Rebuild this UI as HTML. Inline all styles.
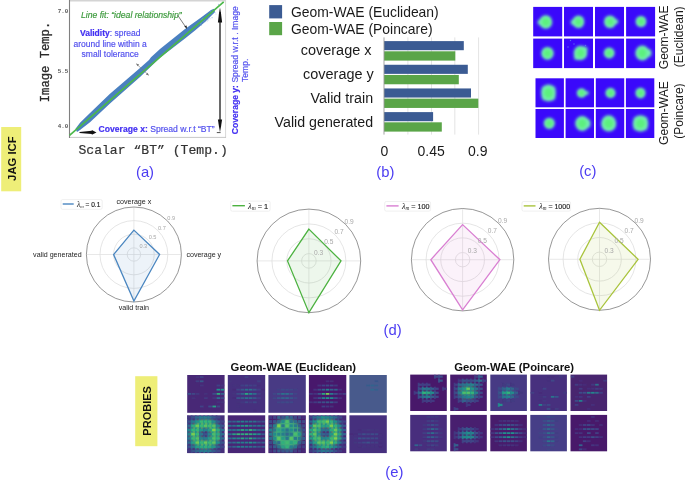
<!DOCTYPE html>
<html><head><meta charset="utf-8"><style>
html,body{margin:0;padding:0;background:#fff;}
body{width:685px;height:481px;overflow:hidden;font-family:"Liberation Sans",sans-serif;}
svg{display:block;will-change:transform;}
</style></head><body>
<svg width="685" height="481" viewBox="0 0 685 481">
<defs>
<filter id="bl1" x="-20%" y="-20%" width="140%" height="140%"><feGaussianBlur stdDeviation="1.5"/></filter>
<filter id="bl2" x="-20%" y="-20%" width="140%" height="140%"><feGaussianBlur stdDeviation="1.5"/></filter>
<filter id="bl3" x="-5%" y="-5%" width="110%" height="110%"><feGaussianBlur stdDeviation="0.5"/></filter>
<filter id="bl5" x="-30%" y="-30%" width="160%" height="160%"><feGaussianBlur stdDeviation="2.2"/></filter>
<filter id="bl4" x="-5%" y="-5%" width="110%" height="110%"><feGaussianBlur stdDeviation="0.75"/></filter>
</defs>
<rect width="685" height="481" fill="#fff"/>
<rect x="69.5" y="0.5" width="156" height="137" fill="#fff" stroke="none"/>
<line x1="69" y1="0.8" x2="226" y2="0.8" stroke="#d4d4d4" stroke-width="1.6"/>
<line x1="225.6" y1="0" x2="225.6" y2="138" stroke="#d8d8d8" stroke-width="1"/>
<line x1="69" y1="137.4" x2="226" y2="137.4" stroke="#c8c8c8" stroke-width="1"/>
<line x1="69.5" y1="0" x2="69.5" y2="138" stroke="#808080" stroke-width="1.1"/>
<polygon points="75.5,128.7 80.0,122.8 90.0,112.9 110.0,93.8 140.0,68.1 149.0,60.1 151.0,57.2 160.0,49.0 185.0,29.1 200.0,18.2 211.0,10.1 214.0,8.8 215.0,11.9 205.0,21.9 195.0,30.5 185.0,38.6 160.0,57.8 140.0,77.1 110.0,103.5 90.0,122.3 80.0,130.1 77.0,131.9" fill="#4a80c0"/>
<circle cx="206.2" cy="15.9" r="0.45" fill="#7aa6d8" opacity="0.8"/>
<circle cx="212.4" cy="9.8" r="0.45" fill="#7aa6d8" opacity="0.8"/>
<circle cx="210.2" cy="14.2" r="0.45" fill="#7aa6d8" opacity="0.8"/>
<circle cx="201.1" cy="23.3" r="0.45" fill="#7aa6d8" opacity="0.8"/>
<circle cx="200.7" cy="23.0" r="0.45" fill="#7aa6d8" opacity="0.8"/>
<circle cx="201.3" cy="19.5" r="0.45" fill="#7aa6d8" opacity="0.8"/>
<circle cx="208.1" cy="20.0" r="0.45" fill="#7aa6d8" opacity="0.8"/>
<circle cx="202.4" cy="19.8" r="0.45" fill="#7aa6d8" opacity="0.8"/>
<circle cx="211.9" cy="17.7" r="0.45" fill="#7aa6d8" opacity="0.8"/>
<circle cx="211.0" cy="13.8" r="0.45" fill="#7aa6d8" opacity="0.8"/>
<circle cx="218.5" cy="4.3" r="0.45" fill="#7aa6d8" opacity="0.8"/>
<circle cx="216.3" cy="8.3" r="0.45" fill="#7aa6d8" opacity="0.8"/>
<circle cx="202.7" cy="18.5" r="0.45" fill="#7aa6d8" opacity="0.8"/>
<circle cx="205.9" cy="21.8" r="0.45" fill="#7aa6d8" opacity="0.8"/>
<circle cx="203.4" cy="21.9" r="0.45" fill="#7aa6d8" opacity="0.8"/>
<circle cx="212.1" cy="12.6" r="0.45" fill="#7aa6d8" opacity="0.8"/>
<circle cx="210.4" cy="11.4" r="0.45" fill="#7aa6d8" opacity="0.8"/>
<circle cx="201.1" cy="20.7" r="0.45" fill="#7aa6d8" opacity="0.8"/>
<circle cx="212.9" cy="12.4" r="0.45" fill="#7aa6d8" opacity="0.8"/>
<circle cx="206.0" cy="19.7" r="0.45" fill="#7aa6d8" opacity="0.8"/>
<circle cx="208.6" cy="15.0" r="0.45" fill="#7aa6d8" opacity="0.8"/>
<circle cx="215.1" cy="12.8" r="0.45" fill="#7aa6d8" opacity="0.8"/>
<circle cx="204.6" cy="20.8" r="0.45" fill="#7aa6d8" opacity="0.8"/>
<circle cx="210.0" cy="18.7" r="0.45" fill="#7aa6d8" opacity="0.8"/>
<circle cx="213.9" cy="10.4" r="0.45" fill="#7aa6d8" opacity="0.8"/>
<circle cx="218.6" cy="4.8" r="0.45" fill="#7aa6d8" opacity="0.8"/>
<circle cx="207.9" cy="19.5" r="0.45" fill="#7aa6d8" opacity="0.8"/>
<circle cx="202.9" cy="21.6" r="0.45" fill="#7aa6d8" opacity="0.8"/>
<circle cx="200.7" cy="25.0" r="0.45" fill="#7aa6d8" opacity="0.8"/>
<circle cx="214.5" cy="12.2" r="0.45" fill="#7aa6d8" opacity="0.8"/>
<circle cx="216.6" cy="8.2" r="0.45" fill="#7aa6d8" opacity="0.8"/>
<circle cx="213.2" cy="13.5" r="0.45" fill="#7aa6d8" opacity="0.8"/>
<circle cx="211.0" cy="14.3" r="0.45" fill="#7aa6d8" opacity="0.8"/>
<circle cx="216.0" cy="14.1" r="0.45" fill="#7aa6d8" opacity="0.8"/>
<circle cx="209.0" cy="17.8" r="0.45" fill="#7aa6d8" opacity="0.8"/>
<circle cx="201.2" cy="24.9" r="0.45" fill="#7aa6d8" opacity="0.8"/>
<circle cx="212.3" cy="17.7" r="0.45" fill="#7aa6d8" opacity="0.8"/>
<circle cx="215.6" cy="8.8" r="0.45" fill="#7aa6d8" opacity="0.8"/>
<circle cx="207.3" cy="19.3" r="0.45" fill="#7aa6d8" opacity="0.8"/>
<circle cx="200.4" cy="23.5" r="0.45" fill="#7aa6d8" opacity="0.8"/>
<circle cx="203.2" cy="18.1" r="0.45" fill="#7aa6d8" opacity="0.8"/>
<circle cx="201.1" cy="25.5" r="0.45" fill="#7aa6d8" opacity="0.8"/>
<circle cx="202.5" cy="19.9" r="0.45" fill="#7aa6d8" opacity="0.8"/>
<circle cx="207.4" cy="20.9" r="0.45" fill="#7aa6d8" opacity="0.8"/>
<circle cx="201.5" cy="22.4" r="0.45" fill="#7aa6d8" opacity="0.8"/>
<line x1="69.5" y1="135.4" x2="223.7" y2="1.9" stroke="#4cb84a" stroke-width="1.7"/>
<line x1="136.5" y1="64" x2="148.5" y2="75" stroke="#777" stroke-width="0.6"/>
<polygon points="136,63.5 139.2,64.6 137.6,66.3" fill="#777"/>
<polygon points="149,75.5 145.8,74.4 147.4,72.7" fill="#777"/>
<line x1="177.5" y1="15" x2="186" y2="27.5" stroke="#222" stroke-width="0.6"/>
<polygon points="187,29 184.3,26.2 186.6,25.4" fill="#222"/>
<polygon points="79.5,131.9 91.8,130.7 91.8,130.0 96.5,132.4 91.8,134.8 91.8,134.1 79.5,132.9" fill="#111"/>
<line x1="220" y1="12" x2="220" y2="126" stroke="#111" stroke-width="1.25"/>
<polygon points="220,7.5 218.9,14 217.9,22.5 222.1,22.5 221.1,14" fill="#111"/>
<polygon points="220,132.3 218.9,126 217.9,119.5 222.1,119.5 221.1,126" fill="#111"/>
<line x1="216.8" y1="132.6" x2="220.6" y2="132.6" stroke="#222" stroke-width="0.8"/>
<text x="68.3" y="12.6" font-family="Liberation Mono" font-weight="bold" font-size="5.8" fill="#555" text-anchor="end">7.0</text>
<text x="68.3" y="73.3" font-family="Liberation Mono" font-weight="bold" font-size="5.8" fill="#555" text-anchor="end">5.5</text>
<text x="68.3" y="127.8" font-family="Liberation Mono" font-weight="bold" font-size="5.8" fill="#555" text-anchor="end">4.0</text>
<text transform="translate(49.3,62) rotate(-90)" font-family="Liberation Mono" font-size="12.2" fill="#2a2a2a" stroke="#2a2a2a" stroke-width="0.3" text-anchor="middle">Image Temp.</text>
<text x="78.4" y="154.4" font-family="Liberation Mono" font-size="13.1" fill="#333" stroke="#333" stroke-width="0.2" textLength="149.4">Scalar “BT” (Temp.)</text>
<text x="81" y="17.9" font-family="Liberation Sans" font-style="italic" font-size="8.65" fill="#3c9a3c" stroke="#3c9a3c" stroke-width="0.18">Line fit: “ideal relationship”</text>
<text font-family="Liberation Sans" font-size="8.5" fill="#5250ee" stroke="#5250ee" stroke-width="0.18" text-anchor="middle"><tspan x="110.2" y="36.3"><tspan font-weight="bold" fill="#4330f2" stroke="#4330f2">Validity</tspan>: spread</tspan><tspan x="110.2" y="46.7">around line within a</tspan><tspan x="110.2" y="57">small tolerance</tspan></text>
<text x="98.6" y="132.4" font-family="Liberation Sans" font-size="8.6" fill="#5250ee" stroke="#5250ee" stroke-width="0.18"><tspan font-weight="bold" fill="#4330f2" stroke="#4330f2">Coverage x:</tspan> Spread w.r.t “BT”</text>
<text transform="translate(237.6,70.2) rotate(-90)" font-family="Liberation Sans" font-size="8.6" fill="#5250ee" stroke="#5250ee" stroke-width="0.18" text-anchor="middle"><tspan font-weight="bold" fill="#4330f2" stroke="#4330f2">Coverage y:</tspan> Spread w.r.t . Image</text>
<text transform="translate(247.6,70.3) rotate(-90)" font-family="Liberation Sans" font-size="8.6" fill="#5250ee" stroke="#5250ee" stroke-width="0.18" text-anchor="middle">Temp.</text>
<rect x="269.2" y="5.1" width="12.9" height="13.3" fill="#3b5b93"/>
<rect x="269.2" y="22" width="12.9" height="13.2" fill="#5aa548"/>
<text x="291" y="16.9" font-family="Liberation Sans" font-size="13.9" fill="#1a1a1a">Geom-WAE (Euclidean)</text>
<text x="291" y="33.6" font-family="Liberation Sans" font-size="13.9" fill="#1a1a1a">Geom-WAE (Poincare)</text>
<line x1="407.9" y1="37.4" x2="407.9" y2="134.6" stroke="#dcdcdc" stroke-width="0.8"/>
<line x1="431.5" y1="37.4" x2="431.5" y2="134.6" stroke="#dcdcdc" stroke-width="0.8"/>
<line x1="454.8" y1="37.4" x2="454.8" y2="134.6" stroke="#dcdcdc" stroke-width="0.8"/>
<line x1="478.6" y1="37.4" x2="478.6" y2="134.6" stroke="#dcdcdc" stroke-width="0.8"/>
<rect x="384" y="41.10" width="79.80" height="9.1" fill="#3b5b93"/>
<rect x="384" y="51.30" width="71.30" height="9.3" fill="#5aa548"/>
<rect x="384" y="64.77" width="83.80" height="9.1" fill="#3b5b93"/>
<rect x="384" y="74.97" width="74.80" height="9.3" fill="#5aa548"/>
<rect x="384" y="88.44" width="87.00" height="9.1" fill="#3b5b93"/>
<rect x="384" y="98.64" width="94.30" height="9.3" fill="#5aa548"/>
<rect x="384" y="112.11" width="49.10" height="9.1" fill="#3b5b93"/>
<rect x="384" y="122.31" width="57.80" height="9.3" fill="#5aa548"/>
<line x1="384" y1="37.4" x2="384" y2="134.6" stroke="#999" stroke-width="0.9"/>
<text x="300.70" y="55.40" font-family="Liberation Sans" font-size="14" fill="#1a1a1a" textLength="70.8" lengthAdjust="spacingAndGlyphs">coverage x</text>
<text x="303.10" y="79.25" font-family="Liberation Sans" font-size="14" fill="#1a1a1a" textLength="70.6" lengthAdjust="spacingAndGlyphs">coverage y</text>
<text x="310.60" y="103.10" font-family="Liberation Sans" font-size="14" fill="#1a1a1a" textLength="62.5" lengthAdjust="spacingAndGlyphs">Valid train</text>
<text x="274.60" y="126.95" font-family="Liberation Sans" font-size="14" fill="#1a1a1a" textLength="98.5" lengthAdjust="spacingAndGlyphs">Valid generated</text>
<text x="384.4" y="155.8" font-family="Liberation Sans" font-size="14" fill="#1a1a1a" text-anchor="middle">0</text>
<text x="431.1" y="155.8" font-family="Liberation Sans" font-size="14" fill="#1a1a1a" text-anchor="middle">0.45</text>
<text x="477.7" y="155.8" font-family="Liberation Sans" font-size="14" fill="#1a1a1a" text-anchor="middle">0.9</text>
<rect x="533.2" y="6.9" width="29.0" height="29.5" fill="#3a08fb"/>
<rect x="535.5" y="78.3" width="28.4" height="29.0" fill="#3a08fb"/>
<rect x="564.0" y="6.9" width="29.0" height="29.5" fill="#3a08fb"/>
<rect x="565.6" y="78.3" width="28.4" height="29.0" fill="#3a08fb"/>
<rect x="595.0" y="6.9" width="29.0" height="29.5" fill="#3a08fb"/>
<rect x="595.8" y="78.3" width="28.4" height="29.0" fill="#3a08fb"/>
<rect x="626.1" y="6.9" width="29.0" height="29.5" fill="#3a08fb"/>
<rect x="625.9" y="78.3" width="28.4" height="29.0" fill="#3a08fb"/>
<rect x="533.2" y="38.6" width="29.0" height="29.5" fill="#3a08fb"/>
<rect x="535.5" y="109.0" width="28.4" height="29.0" fill="#3a08fb"/>
<rect x="564.0" y="38.6" width="29.0" height="29.5" fill="#3a08fb"/>
<rect x="565.6" y="109.0" width="28.4" height="29.0" fill="#3a08fb"/>
<rect x="595.0" y="38.6" width="29.0" height="29.5" fill="#3a08fb"/>
<rect x="595.8" y="109.0" width="28.4" height="29.0" fill="#3a08fb"/>
<rect x="626.1" y="38.6" width="29.0" height="29.5" fill="#3a08fb"/>
<rect x="625.9" y="109.0" width="28.4" height="29.0" fill="#3a08fb"/>
<g filter="url(#bl1)">
<ellipse cx="545.8" cy="22.0" rx="6.4" ry="6.7" fill="#74efb2"/>
<ellipse cx="541.0" cy="22.3" rx="3.4" ry="3.0" fill="#74efb2"/>
<ellipse cx="578.5" cy="21.8" rx="5.8" ry="6.3" fill="#74efb2"/>
<ellipse cx="573.8" cy="22.2" rx="3.0" ry="3.0" fill="#74efb2"/>
<ellipse cx="610.0" cy="21.8" rx="6.0" ry="6.3" fill="#74efb2"/>
<ellipse cx="615.3" cy="21.6" rx="2.9" ry="2.6" fill="#74efb2"/>
<ellipse cx="641.0" cy="21.5" rx="5.3" ry="5.6" fill="#74efb2"/>
<ellipse cx="547.5" cy="53.3" rx="6.2" ry="6.4" fill="#74efb2"/>
<ellipse cx="580.5" cy="53.0" rx="6.8" ry="7.2" fill="#74efb2"/>
<ellipse cx="584.5" cy="49.5" rx="3.0" ry="3.0" fill="#74efb2"/>
<ellipse cx="577.0" cy="57.0" rx="3.0" ry="3.0" fill="#74efb2"/>
<ellipse cx="609.2" cy="53.0" rx="5.4" ry="5.4" fill="#74efb2"/>
<ellipse cx="642.3" cy="53.0" rx="7.0" ry="7.6" fill="#74efb2"/>
<ellipse cx="648.0" cy="53.0" rx="3.5" ry="4.0" fill="#74efb2"/>
<ellipse cx="548.5" cy="93.0" rx="7.4" ry="8.4" fill="#74efb2"/>
<ellipse cx="545.3" cy="89.3" rx="3.6" ry="3.6" fill="#74efb2"/>
<ellipse cx="551.8" cy="89.3" rx="3.6" ry="3.6" fill="#74efb2"/>
<ellipse cx="545.3" cy="96.8" rx="3.6" ry="3.6" fill="#74efb2"/>
<ellipse cx="551.8" cy="96.8" rx="3.6" ry="3.6" fill="#74efb2"/>
<ellipse cx="581.5" cy="93.0" rx="4.6" ry="4.6" fill="#74efb2"/>
<ellipse cx="586.3" cy="93.0" rx="2.6" ry="2.0" fill="#74efb2"/>
<ellipse cx="610.5" cy="93.0" rx="5.0" ry="5.1" fill="#74efb2"/>
<ellipse cx="640.5" cy="93.0" rx="5.0" ry="5.3" fill="#74efb2"/>
<ellipse cx="549.3" cy="123.3" rx="5.5" ry="5.6" fill="#74efb2"/>
<ellipse cx="582.2" cy="123.5" rx="7.0" ry="7.6" fill="#74efb2"/>
<ellipse cx="587.0" cy="123.5" rx="3.5" ry="4.5" fill="#74efb2"/>
<ellipse cx="608.7" cy="123.4" rx="7.6" ry="8.1" fill="#74efb2"/>
<ellipse cx="640.5" cy="123.5" rx="7.8" ry="8.2" fill="#74efb2"/>
<ellipse cx="637.0" cy="120.0" rx="3.5" ry="3.5" fill="#74efb2"/>
<ellipse cx="644.0" cy="120.0" rx="3.5" ry="3.5" fill="#74efb2"/>
<ellipse cx="637.0" cy="127.0" rx="3.5" ry="3.5" fill="#74efb2"/>
<ellipse cx="644.0" cy="127.0" rx="3.5" ry="3.5" fill="#74efb2"/>
</g>
<g filter="url(#bl2)">
<ellipse cx="545.8" cy="22.0" rx="4.0" ry="4.2" fill="#5cf07e"/>
<ellipse cx="578.5" cy="21.8" rx="3.6" ry="3.9" fill="#5cf07e"/>
<ellipse cx="610.0" cy="21.8" rx="3.7" ry="3.9" fill="#5cf07e"/>
<ellipse cx="641.0" cy="21.5" rx="3.3" ry="3.5" fill="#5cf07e"/>
<ellipse cx="547.5" cy="53.3" rx="3.8" ry="4.0" fill="#5cf07e"/>
<ellipse cx="580.5" cy="53.0" rx="4.2" ry="4.5" fill="#5cf07e"/>
<ellipse cx="609.2" cy="53.0" rx="3.3" ry="3.3" fill="#5cf07e"/>
<ellipse cx="642.3" cy="53.0" rx="4.3" ry="4.7" fill="#5cf07e"/>
<ellipse cx="548.5" cy="93.0" rx="4.6" ry="5.2" fill="#5cf07e"/>
<ellipse cx="581.5" cy="93.0" rx="2.9" ry="2.9" fill="#5cf07e"/>
<ellipse cx="610.5" cy="93.0" rx="3.1" ry="3.2" fill="#5cf07e"/>
<ellipse cx="640.5" cy="93.0" rx="3.1" ry="3.3" fill="#5cf07e"/>
<ellipse cx="549.3" cy="123.3" rx="3.4" ry="3.5" fill="#5cf07e"/>
<ellipse cx="582.2" cy="123.5" rx="4.3" ry="4.7" fill="#5cf07e"/>
<ellipse cx="608.7" cy="123.4" rx="4.7" ry="5.0" fill="#5cf07e"/>
<ellipse cx="640.5" cy="123.5" rx="4.8" ry="5.1" fill="#5cf07e"/>
</g>
<circle cx="570.5" cy="40.5" r="0.7" fill="#5a6cf0"/>
<circle cx="574.0" cy="44.0" r="0.7" fill="#5a6cf0"/>
<circle cx="568.0" cy="47.0" r="0.7" fill="#5a6cf0"/>
<circle cx="585.5" cy="45.5" r="0.7" fill="#5a6cf0"/>
<text transform="translate(668.3,37.4) rotate(-90)" font-family="Liberation Sans" font-size="12" fill="#1a1a1a" text-anchor="middle">Geom-WAE</text>
<text transform="translate(682.6,36.8) rotate(-90)" font-family="Liberation Sans" font-size="12" fill="#1a1a1a" text-anchor="middle">(Euclidean)</text>
<text transform="translate(668.3,113.1) rotate(-90)" font-family="Liberation Sans" font-size="12" fill="#1a1a1a" text-anchor="middle">Geom-WAE</text>
<text transform="translate(682.6,111.1) rotate(-90)" font-family="Liberation Sans" font-size="12" fill="#1a1a1a" text-anchor="middle">(Poincare)</text>
<text x="145" y="177.1" font-family="Liberation Sans" font-size="14.8" fill="#4b3cf2" text-anchor="middle">(a)</text>
<text x="385.3" y="177.1" font-family="Liberation Sans" font-size="14.8" fill="#4b3cf2" text-anchor="middle">(b)</text>
<text x="587.8" y="175.6" font-family="Liberation Sans" font-size="14.8" fill="#4b3cf2" text-anchor="middle">(c)</text>
<text x="392.6" y="334.9" font-family="Liberation Sans" font-size="14.8" fill="#4b3cf2" text-anchor="middle">(d)</text>
<text x="394.3" y="477.2" font-family="Liberation Sans" font-size="14.8" fill="#4b3cf2" text-anchor="middle">(e)</text>
<rect x="1.2" y="127" width="20" height="64.3" fill="#eeee78"/>
<text transform="translate(16,158.6) rotate(-90)" font-family="Liberation Sans" font-weight="bold" font-size="11.3" fill="#111" text-anchor="middle">JAG ICF</text>
<rect x="135.2" y="376.2" width="22.2" height="70" fill="#eeee78"/>
<text transform="translate(150.8,410.9) rotate(-90)" font-family="Liberation Sans" font-weight="bold" font-size="11" fill="#111" text-anchor="middle">PROBIES</text>
<circle cx="133.9" cy="254.5" r="6.70" fill="none" stroke="#dadada" stroke-width="0.7"/>
<circle cx="133.9" cy="254.5" r="20.30" fill="none" stroke="#dadada" stroke-width="0.7"/>
<circle cx="133.9" cy="254.5" r="33.90" fill="none" stroke="#dadada" stroke-width="0.7"/>
<line x1="86.4" y1="254.5" x2="181.4" y2="254.5" stroke="#dedede" stroke-width="0.7"/>
<line x1="133.9" y1="207.0" x2="133.9" y2="302.0" stroke="#dedede" stroke-width="0.7"/>
<circle cx="133.9" cy="254.5" r="47.50" fill="none" stroke="#6a6a6a" stroke-width="0.7"/>
<polygon points="133.9,230.1 159.6,254.5 133.9,301.0 113.6,254.5" fill="#4a86c0" fill-opacity="0.1" stroke="#4a86c0" stroke-width="1.3" stroke-linejoin="miter"/>
<text x="143.3" y="248.2" font-family="Liberation Sans" font-size="5.6" fill="#a8a8a8" text-anchor="middle">0.3</text>
<text x="152.6" y="238.8" font-family="Liberation Sans" font-size="5.6" fill="#a8a8a8" text-anchor="middle">0.5</text>
<text x="161.9" y="229.5" font-family="Liberation Sans" font-size="5.6" fill="#a8a8a8" text-anchor="middle">0.7</text>
<text x="171.2" y="220.2" font-family="Liberation Sans" font-size="5.6" fill="#a8a8a8" text-anchor="middle">0.9</text>
<rect x="61.0" y="199.6" width="41.2" height="9.7" rx="1.5" fill="#fff" stroke="#e6e6e6" stroke-width="0.6"/>
<line x1="62.7" y1="204.0" x2="73.7" y2="204.0" stroke="#4a86c0" stroke-width="1.4"/>
<text x="77.0" y="206.9" font-family="Liberation Sans" font-size="6.555" fill="#222"><tspan font-family="Liberation Serif" font-style="italic" font-size="7.6">λ</tspan><tspan font-family="Liberation Serif" font-style="italic" font-size="4.8" dy="1.3">m</tspan><tspan dy="-1.3" stroke="#222" stroke-width="0.15"> = 0.1</tspan></text>
<text x="133.9" y="203.7" font-family="Liberation Sans" font-size="7.1" fill="#222" text-anchor="middle">coverage x</text>
<text x="186.4" y="257.0" font-family="Liberation Sans" font-size="7.1" fill="#222" text-anchor="start">coverage y</text>
<text x="133.9" y="309.6" font-family="Liberation Sans" font-size="7.1" fill="#222" text-anchor="middle">valid train</text>
<text x="81.6" y="257.0" font-family="Liberation Sans" font-size="7.1" fill="#222" text-anchor="end">valid generated</text>
<circle cx="308.9" cy="260.9" r="7.30" fill="none" stroke="#dadada" stroke-width="0.7"/>
<circle cx="308.9" cy="260.9" r="22.13" fill="none" stroke="#dadada" stroke-width="0.7"/>
<circle cx="308.9" cy="260.9" r="36.97" fill="none" stroke="#dadada" stroke-width="0.7"/>
<line x1="257.1" y1="260.9" x2="360.7" y2="260.9" stroke="#dedede" stroke-width="0.7"/>
<line x1="308.9" y1="209.1" x2="308.9" y2="312.7" stroke="#dedede" stroke-width="0.7"/>
<circle cx="308.9" cy="260.9" r="51.80" fill="none" stroke="#6a6a6a" stroke-width="0.7"/>
<polygon points="308.9,229.1 341.0,260.9 308.9,312.7 287.5,260.9" fill="#4cb240" fill-opacity="0.1" stroke="#4cb240" stroke-width="1.3" stroke-linejoin="miter"/>
<text x="318.7" y="254.5" font-family="Liberation Sans" font-size="6.6" fill="#a8a8a8" text-anchor="middle">0.3</text>
<text x="328.8" y="244.3" font-family="Liberation Sans" font-size="6.6" fill="#a8a8a8" text-anchor="middle">0.5</text>
<text x="339.0" y="234.2" font-family="Liberation Sans" font-size="6.6" fill="#a8a8a8" text-anchor="middle">0.7</text>
<text x="349.2" y="224.0" font-family="Liberation Sans" font-size="6.6" fill="#a8a8a8" text-anchor="middle">0.9</text>
<rect x="230.7" y="201.1" width="39.4" height="10.1" rx="1.5" fill="#fff" stroke="#e6e6e6" stroke-width="0.6"/>
<line x1="232.4" y1="205.7" x2="244.9" y2="205.7" stroke="#4cb240" stroke-width="1.4"/>
<text x="247.9" y="209.0" font-family="Liberation Sans" font-size="7.409999999999999" fill="#222"><tspan font-family="Liberation Serif" font-style="italic" font-size="8.6">λ</tspan><tspan font-family="Liberation Serif" font-style="italic" font-size="5.5" dy="1.3">m</tspan><tspan dy="-1.3" stroke="#222" stroke-width="0.15"> = 1</tspan></text>
<circle cx="462.6" cy="259.7" r="7.20" fill="none" stroke="#dadada" stroke-width="0.7"/>
<circle cx="462.6" cy="259.7" r="21.87" fill="none" stroke="#dadada" stroke-width="0.7"/>
<circle cx="462.6" cy="259.7" r="36.53" fill="none" stroke="#dadada" stroke-width="0.7"/>
<line x1="411.4" y1="259.7" x2="513.8" y2="259.7" stroke="#dedede" stroke-width="0.7"/>
<line x1="462.6" y1="208.5" x2="462.6" y2="310.9" stroke="#dedede" stroke-width="0.7"/>
<circle cx="462.6" cy="259.7" r="51.20" fill="none" stroke="#6a6a6a" stroke-width="0.7"/>
<polygon points="462.6,224.6 499.9,259.7 462.6,309.8 430.8,259.7" fill="#d97fd2" fill-opacity="0.1" stroke="#d97fd2" stroke-width="1.3" stroke-linejoin="miter"/>
<text x="472.3" y="253.4" font-family="Liberation Sans" font-size="6.6" fill="#a8a8a8" text-anchor="middle">0.3</text>
<text x="482.4" y="243.3" font-family="Liberation Sans" font-size="6.6" fill="#a8a8a8" text-anchor="middle">0.5</text>
<text x="492.4" y="233.3" font-family="Liberation Sans" font-size="6.6" fill="#a8a8a8" text-anchor="middle">0.7</text>
<text x="502.5" y="223.2" font-family="Liberation Sans" font-size="6.6" fill="#a8a8a8" text-anchor="middle">0.9</text>
<rect x="384.7" y="201.5" width="45.9" height="9.6" rx="1.5" fill="#fff" stroke="#e6e6e6" stroke-width="0.6"/>
<line x1="386.4" y1="205.9" x2="398.6" y2="205.9" stroke="#d97fd2" stroke-width="1.4"/>
<text x="401.9" y="209.0" font-family="Liberation Sans" font-size="7.22" fill="#222"><tspan font-family="Liberation Serif" font-style="italic" font-size="8.4">λ</tspan><tspan font-family="Liberation Serif" font-style="italic" font-size="5.3" dy="1.3">m</tspan><tspan dy="-1.3" stroke="#222" stroke-width="0.15"> = 100</tspan></text>
<circle cx="599.5" cy="259.3" r="7.20" fill="none" stroke="#dadada" stroke-width="0.7"/>
<circle cx="599.5" cy="259.3" r="21.80" fill="none" stroke="#dadada" stroke-width="0.7"/>
<circle cx="599.5" cy="259.3" r="36.40" fill="none" stroke="#dadada" stroke-width="0.7"/>
<line x1="548.5" y1="259.3" x2="650.5" y2="259.3" stroke="#dedede" stroke-width="0.7"/>
<line x1="599.5" y1="208.3" x2="599.5" y2="310.3" stroke="#dedede" stroke-width="0.7"/>
<circle cx="599.5" cy="259.3" r="51.00" fill="none" stroke="#6a6a6a" stroke-width="0.7"/>
<polygon points="599.5,222.2 638.1,259.3 599.5,310.3 579.9,259.3" fill="#a9c43c" fill-opacity="0.1" stroke="#a9c43c" stroke-width="1.3" stroke-linejoin="miter"/>
<text x="609.2" y="253.0" font-family="Liberation Sans" font-size="6.6" fill="#a8a8a8" text-anchor="middle">0.3</text>
<text x="619.2" y="243.0" font-family="Liberation Sans" font-size="6.6" fill="#a8a8a8" text-anchor="middle">0.5</text>
<text x="629.2" y="232.9" font-family="Liberation Sans" font-size="6.6" fill="#a8a8a8" text-anchor="middle">0.7</text>
<text x="639.2" y="222.9" font-family="Liberation Sans" font-size="6.6" fill="#a8a8a8" text-anchor="middle">0.9</text>
<rect x="522.0" y="201.5" width="48.6" height="9.6" rx="1.5" fill="#fff" stroke="#e6e6e6" stroke-width="0.6"/>
<line x1="523.7" y1="205.9" x2="535.5" y2="205.9" stroke="#a9c43c" stroke-width="1.4"/>
<text x="539.2" y="209.0" font-family="Liberation Sans" font-size="7.03" fill="#222"><tspan font-family="Liberation Serif" font-style="italic" font-size="8.1">λ</tspan><tspan font-family="Liberation Serif" font-style="italic" font-size="5.2" dy="1.3">m</tspan><tspan dy="-1.3" stroke="#222" stroke-width="0.15"> = 1000</tspan></text>
<rect x="187.2" y="375.0" width="37.4" height="37.8" fill="#482876"/>
<clipPath id="tc0"><rect x="187.2" y="375.0" width="37.4" height="37.8"/></clipPath>
<g clip-path="url(#tc0)"><g filter="url(#bl3)"><rect x="195.79" y="376.20" width="3.60" height="1.80" fill="#44327c"/><rect x="199.94" y="376.20" width="3.60" height="1.80" fill="#414185"/><rect x="195.79" y="380.40" width="3.60" height="1.80" fill="#413f84"/><rect x="199.94" y="380.40" width="3.60" height="1.80" fill="#38588b"/><rect x="199.94" y="384.60" width="3.60" height="1.80" fill="#44347e"/><rect x="216.57" y="384.60" width="3.60" height="1.80" fill="#414085"/><rect x="220.72" y="384.60" width="3.60" height="1.80" fill="#44337d"/><rect x="216.57" y="388.80" width="3.60" height="1.80" fill="#218f8c"/><rect x="220.72" y="388.80" width="3.60" height="1.80" fill="#218e8c"/><rect x="187.48" y="393.00" width="3.60" height="1.80" fill="#3a528a"/><rect x="191.63" y="393.00" width="3.60" height="1.80" fill="#3f4787"/><rect x="195.79" y="393.00" width="3.60" height="1.80" fill="#433880"/><rect x="204.10" y="393.00" width="3.60" height="1.80" fill="#45317c"/><rect x="212.41" y="393.00" width="3.60" height="1.80" fill="#3d4b88"/><rect x="216.57" y="393.00" width="3.60" height="1.80" fill="#2fac7e"/><rect x="220.72" y="393.00" width="3.60" height="1.80" fill="#33628d"/><rect x="191.63" y="397.20" width="3.60" height="1.80" fill="#45317c"/><rect x="204.10" y="397.20" width="3.60" height="1.80" fill="#433a81"/><rect x="212.41" y="397.20" width="3.60" height="1.80" fill="#44347e"/><rect x="216.57" y="397.20" width="3.60" height="1.80" fill="#2d6f8d"/><rect x="220.72" y="397.20" width="3.60" height="1.80" fill="#3f4787"/><rect x="216.57" y="401.40" width="3.60" height="1.80" fill="#45307c"/><rect x="220.72" y="401.40" width="3.60" height="1.80" fill="#45307b"/><rect x="199.94" y="405.60" width="3.60" height="1.80" fill="#414286"/><rect x="208.26" y="405.60" width="3.60" height="1.80" fill="#3c4d89"/><rect x="212.41" y="405.60" width="3.60" height="1.80" fill="#28a084"/><rect x="216.57" y="405.60" width="3.60" height="1.80" fill="#3e4988"/></g></g>
<rect x="227.8" y="375.0" width="37.4" height="37.8" fill="#46307e"/>
<clipPath id="tc1"><rect x="227.8" y="375.0" width="37.4" height="37.8"/></clipPath>
<g clip-path="url(#tc1)"><g filter="url(#bl3)"><rect x="244.70" y="376.20" width="3.60" height="1.80" fill="#423f84"/><rect x="228.08" y="380.40" width="3.60" height="1.80" fill="#44357e"/><rect x="257.17" y="380.40" width="3.60" height="1.80" fill="#414085"/><rect x="232.23" y="384.60" width="3.60" height="1.80" fill="#44337d"/><rect x="236.39" y="384.60" width="3.60" height="1.80" fill="#45307c"/><rect x="240.54" y="384.60" width="3.60" height="1.80" fill="#414185"/><rect x="244.70" y="384.60" width="3.60" height="1.80" fill="#3d4a88"/><rect x="248.86" y="384.60" width="3.60" height="1.80" fill="#414286"/><rect x="253.01" y="384.60" width="3.60" height="1.80" fill="#423f84"/><rect x="257.17" y="384.60" width="3.60" height="1.80" fill="#452e7a"/><rect x="232.23" y="388.80" width="3.60" height="1.80" fill="#462c79"/><rect x="236.39" y="388.80" width="3.60" height="1.80" fill="#404487"/><rect x="240.54" y="388.80" width="3.60" height="1.80" fill="#37588b"/><rect x="244.70" y="388.80" width="3.60" height="1.80" fill="#2c718d"/><rect x="248.86" y="388.80" width="3.60" height="1.80" fill="#2d708d"/><rect x="253.01" y="388.80" width="3.60" height="1.80" fill="#37598b"/><rect x="257.17" y="388.80" width="3.60" height="1.80" fill="#414185"/><rect x="261.32" y="388.80" width="3.60" height="1.80" fill="#462c79"/><rect x="232.23" y="393.00" width="3.60" height="1.80" fill="#44347e"/><rect x="236.39" y="393.00" width="3.60" height="1.80" fill="#3d4b88"/><rect x="240.54" y="393.00" width="3.60" height="1.80" fill="#32648d"/><rect x="244.70" y="393.00" width="3.60" height="1.80" fill="#2ca681"/><rect x="248.86" y="393.00" width="3.60" height="1.80" fill="#24868c"/><rect x="253.01" y="393.00" width="3.60" height="1.80" fill="#2f6b8d"/><rect x="257.17" y="393.00" width="3.60" height="1.80" fill="#413f84"/><rect x="261.32" y="393.00" width="3.60" height="1.80" fill="#45317c"/><rect x="232.23" y="397.20" width="3.60" height="1.80" fill="#452d7a"/><rect x="236.39" y="397.20" width="3.60" height="1.80" fill="#38578b"/><rect x="240.54" y="397.20" width="3.60" height="1.80" fill="#355d8c"/><rect x="244.70" y="397.20" width="3.60" height="1.80" fill="#2c718d"/><rect x="248.86" y="397.20" width="3.60" height="1.80" fill="#2f6a8d"/><rect x="253.01" y="397.20" width="3.60" height="1.80" fill="#37598b"/><rect x="257.17" y="397.20" width="3.60" height="1.80" fill="#414085"/><rect x="236.39" y="401.40" width="3.60" height="1.80" fill="#45317c"/><rect x="240.54" y="401.40" width="3.60" height="1.80" fill="#433981"/><rect x="244.70" y="401.40" width="3.60" height="1.80" fill="#3e4988"/><rect x="248.86" y="401.40" width="3.60" height="1.80" fill="#423d83"/><rect x="253.01" y="401.40" width="3.60" height="1.80" fill="#3e4a88"/><rect x="257.17" y="401.40" width="3.60" height="1.80" fill="#44327d"/><rect x="236.39" y="405.60" width="3.60" height="1.80" fill="#44327d"/><rect x="253.01" y="409.80" width="3.60" height="1.80" fill="#452e7a"/></g></g>
<rect x="268.4" y="375.0" width="37.4" height="37.8" fill="#483a84"/>
<clipPath id="tc2"><rect x="268.4" y="375.0" width="37.4" height="37.8"/></clipPath>
<g clip-path="url(#tc2)"><g filter="url(#bl3)"><rect x="276.99" y="388.80" width="3.60" height="1.80" fill="#414185"/><rect x="281.14" y="388.80" width="3.60" height="1.80" fill="#3d4a88"/><rect x="285.30" y="388.80" width="3.60" height="1.80" fill="#3e4888"/><rect x="289.46" y="388.80" width="3.60" height="1.80" fill="#3f4787"/><rect x="293.61" y="388.80" width="3.60" height="1.80" fill="#414085"/><rect x="272.83" y="393.00" width="3.60" height="1.80" fill="#3f4787"/><rect x="276.99" y="393.00" width="3.60" height="1.80" fill="#375a8b"/><rect x="281.14" y="393.00" width="3.60" height="1.80" fill="#2c718d"/><rect x="285.30" y="393.00" width="3.60" height="1.80" fill="#2e6e8d"/><rect x="289.46" y="393.00" width="3.60" height="1.80" fill="#355d8c"/><rect x="293.61" y="393.00" width="3.60" height="1.80" fill="#404587"/><rect x="272.83" y="397.20" width="3.60" height="1.80" fill="#3f4687"/><rect x="276.99" y="397.20" width="3.60" height="1.80" fill="#37588b"/><rect x="281.14" y="397.20" width="3.60" height="1.80" fill="#33628d"/><rect x="285.30" y="397.20" width="3.60" height="1.80" fill="#32658d"/><rect x="289.46" y="397.20" width="3.60" height="1.80" fill="#38568b"/><rect x="293.61" y="397.20" width="3.60" height="1.80" fill="#3e4988"/><rect x="276.99" y="401.40" width="3.60" height="1.80" fill="#3f4787"/><rect x="281.14" y="401.40" width="3.60" height="1.80" fill="#3e4a88"/><rect x="285.30" y="401.40" width="3.60" height="1.80" fill="#3d4b88"/><rect x="289.46" y="401.40" width="3.60" height="1.80" fill="#3e4888"/></g></g>
<rect x="308.9" y="375.0" width="37.4" height="37.8" fill="#48186c"/>
<clipPath id="tc3"><rect x="308.9" y="375.0" width="37.4" height="37.8"/></clipPath>
<g clip-path="url(#tc3)"><g filter="url(#bl3)"><rect x="325.80" y="380.40" width="3.60" height="1.80" fill="#452d7a"/><rect x="329.96" y="380.40" width="3.60" height="1.80" fill="#462d7a"/><rect x="317.49" y="384.60" width="3.60" height="1.80" fill="#44337d"/><rect x="321.64" y="384.60" width="3.60" height="1.80" fill="#414286"/><rect x="325.80" y="384.60" width="3.60" height="1.80" fill="#3d4a88"/><rect x="329.96" y="384.60" width="3.60" height="1.80" fill="#3f4687"/><rect x="334.11" y="384.60" width="3.60" height="1.80" fill="#43377f"/><rect x="313.33" y="388.80" width="3.60" height="1.80" fill="#44327d"/><rect x="317.49" y="388.80" width="3.60" height="1.80" fill="#3d4c88"/><rect x="321.64" y="388.80" width="3.60" height="1.80" fill="#32658d"/><rect x="325.80" y="388.80" width="3.60" height="1.80" fill="#26818d"/><rect x="329.96" y="388.80" width="3.60" height="1.80" fill="#34608d"/><rect x="334.11" y="388.80" width="3.60" height="1.80" fill="#33628d"/><rect x="338.27" y="388.80" width="3.60" height="1.80" fill="#452f7b"/><rect x="309.18" y="393.00" width="3.60" height="1.80" fill="#433880"/><rect x="313.33" y="393.00" width="3.60" height="1.80" fill="#44327d"/><rect x="317.49" y="393.00" width="3.60" height="1.80" fill="#38568b"/><rect x="321.64" y="393.00" width="3.60" height="1.80" fill="#2aa382"/><rect x="325.80" y="393.00" width="3.60" height="1.80" fill="#76cd52"/><rect x="329.96" y="393.00" width="3.60" height="1.80" fill="#29798d"/><rect x="334.11" y="393.00" width="3.60" height="1.80" fill="#3b5089"/><rect x="338.27" y="393.00" width="3.60" height="1.80" fill="#44357e"/><rect x="342.42" y="393.00" width="3.60" height="1.80" fill="#423d83"/><rect x="313.33" y="397.20" width="3.60" height="1.80" fill="#44357e"/><rect x="317.49" y="397.20" width="3.60" height="1.80" fill="#3a518a"/><rect x="321.64" y="397.20" width="3.60" height="1.80" fill="#27808d"/><rect x="325.80" y="397.20" width="3.60" height="1.80" fill="#22938a"/><rect x="329.96" y="397.20" width="3.60" height="1.80" fill="#23898c"/><rect x="334.11" y="397.20" width="3.60" height="1.80" fill="#3b5189"/><rect x="338.27" y="397.20" width="3.60" height="1.80" fill="#45317c"/><rect x="309.18" y="401.40" width="3.60" height="1.80" fill="#45307c"/><rect x="313.33" y="401.40" width="3.60" height="1.80" fill="#423b82"/><rect x="317.49" y="401.40" width="3.60" height="1.80" fill="#3d4c88"/><rect x="321.64" y="401.40" width="3.60" height="1.80" fill="#3a518a"/><rect x="325.80" y="401.40" width="3.60" height="1.80" fill="#37598b"/><rect x="329.96" y="401.40" width="3.60" height="1.80" fill="#38578b"/><rect x="334.11" y="401.40" width="3.60" height="1.80" fill="#423e83"/><rect x="321.64" y="405.60" width="3.60" height="1.80" fill="#414286"/><rect x="325.80" y="405.60" width="3.60" height="1.80" fill="#433780"/><rect x="329.96" y="405.60" width="3.60" height="1.80" fill="#45307b"/></g></g>
<rect x="349.4" y="375.0" width="37.4" height="37.8" fill="#485a8c"/>
<clipPath id="tc4"><rect x="349.4" y="375.0" width="37.4" height="37.8"/></clipPath>
<g clip-path="url(#tc4)"><g filter="url(#bl3)"><rect x="374.61" y="380.40" width="3.60" height="1.80" fill="#39548a"/><rect x="366.30" y="384.60" width="3.60" height="1.80" fill="#355d8c"/><rect x="370.46" y="384.60" width="3.60" height="1.80" fill="#32648d"/><rect x="374.61" y="384.60" width="3.60" height="1.80" fill="#355e8c"/><rect x="370.46" y="388.80" width="3.60" height="1.80" fill="#30698d"/><rect x="374.61" y="388.80" width="3.60" height="1.80" fill="#34608d"/></g></g>
<rect x="187.2" y="415.3" width="37.4" height="37.8" fill="#46307c"/>
<clipPath id="tc5"><rect x="187.2" y="415.3" width="37.4" height="37.8"/></clipPath>
<g clip-path="url(#tc5)"><g filter="url(#bl5)"><circle cx="205.2" cy="434.2" r="10.5" fill="none" stroke="#55c668" stroke-width="9.7" opacity="0.85"/></g></g>
<g clip-path="url(#tc5)"><g filter="url(#bl4)"><rect x="186.60" y="415.30" width="1.80" height="4.20" fill="#44347e"/><rect x="187.20" y="416.30" width="4.16" height="2.20" fill="#433880"/><rect x="190.76" y="415.30" width="1.80" height="4.20" fill="#3e4988"/><rect x="191.36" y="416.30" width="4.16" height="2.20" fill="#3b5189"/><rect x="194.91" y="415.30" width="1.80" height="4.20" fill="#355e8c"/><rect x="195.51" y="416.30" width="4.16" height="2.20" fill="#2f6a8d"/><rect x="199.07" y="415.30" width="1.80" height="4.20" fill="#2e6e8d"/><rect x="199.67" y="416.30" width="4.16" height="2.20" fill="#277f8d"/><rect x="203.22" y="415.30" width="1.80" height="4.20" fill="#2d708d"/><rect x="203.82" y="416.30" width="4.16" height="2.20" fill="#26818d"/><rect x="207.38" y="415.30" width="1.80" height="4.20" fill="#306a8d"/><rect x="207.98" y="416.30" width="4.16" height="2.20" fill="#29798d"/><rect x="211.53" y="415.30" width="1.80" height="4.20" fill="#3a518a"/><rect x="212.13" y="416.30" width="4.16" height="2.20" fill="#365b8c"/><rect x="215.69" y="415.30" width="1.80" height="4.20" fill="#414085"/><rect x="216.29" y="416.30" width="4.16" height="2.20" fill="#3f4787"/><rect x="186.60" y="419.50" width="1.80" height="4.20" fill="#3e4a88"/><rect x="187.20" y="420.50" width="4.16" height="2.20" fill="#3a528a"/><rect x="190.76" y="419.50" width="1.80" height="4.20" fill="#2f6c8d"/><rect x="191.36" y="420.50" width="4.16" height="2.20" fill="#287c8d"/><rect x="194.91" y="419.50" width="1.80" height="4.20" fill="#277e8d"/><rect x="195.51" y="420.50" width="4.16" height="2.20" fill="#22938a"/><rect x="199.07" y="419.50" width="1.80" height="4.20" fill="#21918b"/><rect x="199.67" y="420.50" width="4.16" height="2.20" fill="#39b876"/><rect x="203.22" y="419.50" width="1.80" height="4.20" fill="#21908c"/><rect x="203.82" y="420.50" width="4.16" height="2.20" fill="#35b778"/><rect x="207.38" y="419.50" width="1.80" height="4.20" fill="#218e8c"/><rect x="207.98" y="420.50" width="4.16" height="2.20" fill="#33b47a"/><rect x="211.53" y="419.50" width="1.80" height="4.20" fill="#287c8d"/><rect x="212.13" y="420.50" width="4.16" height="2.20" fill="#218f8c"/><rect x="215.69" y="419.50" width="1.80" height="4.20" fill="#37588b"/><rect x="216.29" y="420.50" width="4.16" height="2.20" fill="#32648d"/><rect x="219.84" y="419.50" width="1.80" height="4.20" fill="#423e83"/><rect x="220.44" y="420.50" width="4.16" height="2.20" fill="#404487"/><rect x="186.60" y="423.70" width="1.80" height="4.20" fill="#355d8c"/><rect x="187.20" y="424.70" width="4.16" height="2.20" fill="#306a8d"/><rect x="190.76" y="423.70" width="1.80" height="4.20" fill="#228b8c"/><rect x="191.36" y="424.70" width="4.16" height="2.20" fill="#30ad7d"/><rect x="194.91" y="423.70" width="1.80" height="4.20" fill="#2ca681"/><rect x="195.51" y="424.70" width="4.16" height="2.20" fill="#72cc54"/><rect x="199.07" y="423.70" width="1.80" height="4.20" fill="#21918b"/><rect x="199.67" y="424.70" width="4.16" height="2.20" fill="#39b876"/><rect x="203.22" y="423.70" width="1.80" height="4.20" fill="#279d85"/><rect x="203.82" y="424.70" width="4.16" height="2.20" fill="#5ac462"/><rect x="207.38" y="423.70" width="1.80" height="4.20" fill="#22948a"/><rect x="207.98" y="424.70" width="4.16" height="2.20" fill="#41bb71"/><rect x="211.53" y="423.70" width="1.80" height="4.20" fill="#269b86"/><rect x="212.13" y="424.70" width="4.16" height="2.20" fill="#55c265"/><rect x="215.69" y="423.70" width="1.80" height="4.20" fill="#2b758d"/><rect x="216.29" y="424.70" width="4.16" height="2.20" fill="#24868c"/><rect x="219.84" y="423.70" width="1.80" height="4.20" fill="#3c4e89"/><rect x="220.44" y="424.70" width="4.16" height="2.20" fill="#38578b"/><rect x="186.60" y="427.90" width="1.80" height="4.20" fill="#2b748d"/><rect x="187.20" y="428.90" width="4.16" height="2.20" fill="#24868c"/><rect x="190.76" y="427.90" width="1.80" height="4.20" fill="#218f8c"/><rect x="191.36" y="428.90" width="4.16" height="2.20" fill="#34b679"/><rect x="194.91" y="427.90" width="1.80" height="4.20" fill="#21908c"/><rect x="195.51" y="428.90" width="4.16" height="2.20" fill="#36b777"/><rect x="199.07" y="427.90" width="1.80" height="4.20" fill="#277f8d"/><rect x="199.67" y="428.90" width="4.16" height="2.20" fill="#239589"/><rect x="203.22" y="427.90" width="1.80" height="4.20" fill="#2d718d"/><rect x="203.82" y="428.90" width="4.16" height="2.20" fill="#26818d"/><rect x="207.38" y="427.90" width="1.80" height="4.20" fill="#26818d"/><rect x="207.98" y="428.90" width="4.16" height="2.20" fill="#259987"/><rect x="211.53" y="427.90" width="1.80" height="4.20" fill="#2fac7e"/><rect x="212.13" y="428.90" width="4.16" height="2.20" fill="#84d24a"/><rect x="215.69" y="427.90" width="1.80" height="4.20" fill="#238b8c"/><rect x="216.29" y="428.90" width="4.16" height="2.20" fill="#2fac7e"/><rect x="219.84" y="427.90" width="1.80" height="4.20" fill="#33618d"/><rect x="220.44" y="428.90" width="4.16" height="2.20" fill="#2d6f8d"/><rect x="186.60" y="432.10" width="1.80" height="4.20" fill="#2c738d"/><rect x="187.20" y="433.10" width="4.16" height="2.20" fill="#25848d"/><rect x="190.76" y="432.10" width="1.80" height="4.20" fill="#2da880"/><rect x="191.36" y="433.10" width="4.16" height="2.20" fill="#79cf50"/><rect x="194.91" y="432.10" width="1.80" height="4.20" fill="#21918b"/><rect x="195.51" y="433.10" width="4.16" height="2.20" fill="#39b876"/><rect x="199.07" y="432.10" width="1.80" height="4.20" fill="#31688d"/><rect x="199.67" y="433.10" width="4.16" height="2.20" fill="#2a778d"/><rect x="203.22" y="432.10" width="1.80" height="4.20" fill="#3d4b88"/><rect x="203.82" y="433.10" width="4.16" height="2.20" fill="#3a538a"/><rect x="207.38" y="432.10" width="1.80" height="4.20" fill="#2c728d"/><rect x="207.98" y="433.10" width="4.16" height="2.20" fill="#25838d"/><rect x="211.53" y="432.10" width="1.80" height="4.20" fill="#249788"/><rect x="212.13" y="433.10" width="4.16" height="2.20" fill="#4abe6c"/><rect x="215.69" y="432.10" width="1.80" height="4.20" fill="#238a8c"/><rect x="216.29" y="433.10" width="4.16" height="2.20" fill="#2eab7e"/><rect x="219.84" y="432.10" width="1.80" height="4.20" fill="#33628d"/><rect x="220.44" y="433.10" width="4.16" height="2.20" fill="#2d708d"/><rect x="186.60" y="436.30" width="1.80" height="4.20" fill="#2f6b8d"/><rect x="187.20" y="437.30" width="4.16" height="2.20" fill="#287b8d"/><rect x="190.76" y="436.30" width="1.80" height="4.20" fill="#21918b"/><rect x="191.36" y="437.30" width="4.16" height="2.20" fill="#3ab875"/><rect x="194.91" y="436.30" width="1.80" height="4.20" fill="#269a87"/><rect x="195.51" y="437.30" width="4.16" height="2.20" fill="#53c166"/><rect x="199.07" y="436.30" width="1.80" height="4.20" fill="#2b738d"/><rect x="199.67" y="437.30" width="4.16" height="2.20" fill="#25858c"/><rect x="203.22" y="436.30" width="1.80" height="4.20" fill="#2d6e8d"/><rect x="203.82" y="437.30" width="4.16" height="2.20" fill="#277f8d"/><rect x="207.38" y="436.30" width="1.80" height="4.20" fill="#26828d"/><rect x="207.98" y="437.30" width="4.16" height="2.20" fill="#269a87"/><rect x="211.53" y="436.30" width="1.80" height="4.20" fill="#259a87"/><rect x="212.13" y="437.30" width="4.16" height="2.20" fill="#51c167"/><rect x="215.69" y="436.30" width="1.80" height="4.20" fill="#218f8c"/><rect x="216.29" y="437.30" width="4.16" height="2.20" fill="#33b47a"/><rect x="219.84" y="436.30" width="1.80" height="4.20" fill="#345f8d"/><rect x="220.44" y="437.30" width="4.16" height="2.20" fill="#2e6d8d"/><rect x="186.60" y="440.50" width="1.80" height="4.20" fill="#355d8c"/><rect x="187.20" y="441.50" width="4.16" height="2.20" fill="#2f6a8d"/><rect x="190.76" y="440.50" width="1.80" height="4.20" fill="#25858c"/><rect x="191.36" y="441.50" width="4.16" height="2.20" fill="#29a183"/><rect x="194.91" y="440.50" width="1.80" height="4.20" fill="#2ba482"/><rect x="195.51" y="441.50" width="4.16" height="2.20" fill="#6ecb57"/><rect x="199.07" y="440.50" width="1.80" height="4.20" fill="#218f8c"/><rect x="199.67" y="441.50" width="4.16" height="2.20" fill="#34b579"/><rect x="203.22" y="440.50" width="1.80" height="4.20" fill="#29a183"/><rect x="203.82" y="441.50" width="4.16" height="2.20" fill="#67c85b"/><rect x="207.38" y="440.50" width="1.80" height="4.20" fill="#21918b"/><rect x="207.98" y="441.50" width="4.16" height="2.20" fill="#38b876"/><rect x="211.53" y="440.50" width="1.80" height="4.20" fill="#289e85"/><rect x="212.13" y="441.50" width="4.16" height="2.20" fill="#5ec560"/><rect x="215.69" y="440.50" width="1.80" height="4.20" fill="#277d8d"/><rect x="216.29" y="441.50" width="4.16" height="2.20" fill="#21908c"/><rect x="219.84" y="440.50" width="1.80" height="4.20" fill="#3c4e89"/><rect x="220.44" y="441.50" width="4.16" height="2.20" fill="#38578b"/><rect x="186.60" y="444.70" width="1.80" height="4.20" fill="#3d4a88"/><rect x="187.20" y="445.70" width="4.16" height="2.20" fill="#3a528a"/><rect x="190.76" y="444.70" width="1.80" height="4.20" fill="#31678d"/><rect x="191.36" y="445.70" width="4.16" height="2.20" fill="#2a768d"/><rect x="194.91" y="444.70" width="1.80" height="4.20" fill="#25858c"/><rect x="195.51" y="445.70" width="4.16" height="2.20" fill="#28a084"/><rect x="199.07" y="444.70" width="1.80" height="4.20" fill="#23898c"/><rect x="199.67" y="445.70" width="4.16" height="2.20" fill="#2eaa7f"/><rect x="203.22" y="444.70" width="1.80" height="4.20" fill="#228d8c"/><rect x="203.82" y="445.70" width="4.16" height="2.20" fill="#31b07c"/><rect x="207.38" y="444.70" width="1.80" height="4.20" fill="#23898c"/><rect x="207.98" y="445.70" width="4.16" height="2.20" fill="#2da97f"/><rect x="211.53" y="444.70" width="1.80" height="4.20" fill="#26818d"/><rect x="212.13" y="445.70" width="4.16" height="2.20" fill="#249888"/><rect x="215.69" y="444.70" width="1.80" height="4.20" fill="#375a8b"/><rect x="216.29" y="445.70" width="4.16" height="2.20" fill="#31668d"/><rect x="219.84" y="444.70" width="1.80" height="4.20" fill="#414085"/><rect x="220.44" y="445.70" width="4.16" height="2.20" fill="#3f4787"/><rect x="186.60" y="448.90" width="1.80" height="4.20" fill="#44357e"/><rect x="187.20" y="449.90" width="4.16" height="2.20" fill="#433981"/><rect x="190.76" y="448.90" width="1.80" height="4.20" fill="#3e4a88"/><rect x="191.36" y="449.90" width="4.16" height="2.20" fill="#3a528a"/><rect x="194.91" y="448.90" width="1.80" height="4.20" fill="#365a8c"/><rect x="195.51" y="449.90" width="4.16" height="2.20" fill="#31668d"/><rect x="199.07" y="448.90" width="1.80" height="4.20" fill="#30688d"/><rect x="199.67" y="449.90" width="4.16" height="2.20" fill="#29788d"/><rect x="203.22" y="448.90" width="1.80" height="4.20" fill="#2e6e8d"/><rect x="203.82" y="449.90" width="4.16" height="2.20" fill="#277e8d"/><rect x="207.38" y="448.90" width="1.80" height="4.20" fill="#30688d"/><rect x="207.98" y="449.90" width="4.16" height="2.20" fill="#29788d"/><rect x="211.53" y="448.90" width="1.80" height="4.20" fill="#3a528a"/><rect x="212.13" y="449.90" width="4.16" height="2.20" fill="#365c8c"/><rect x="215.69" y="448.90" width="1.80" height="4.20" fill="#414285"/><rect x="216.29" y="449.90" width="4.16" height="2.20" fill="#3f4887"/></g></g>
<rect x="227.8" y="415.3" width="37.4" height="37.8" fill="#482676"/>
<clipPath id="tc6"><rect x="227.8" y="415.3" width="37.4" height="37.8"/></clipPath>
<g clip-path="url(#tc6)"><g filter="url(#bl3)"><rect x="228.08" y="420.70" width="3.60" height="1.80" fill="#33638d"/><rect x="232.23" y="420.70" width="3.60" height="1.80" fill="#33638d"/><rect x="236.39" y="420.70" width="3.60" height="1.80" fill="#287b8d"/><rect x="240.54" y="420.70" width="3.60" height="1.80" fill="#277f8d"/><rect x="244.70" y="420.70" width="3.60" height="1.80" fill="#2a758d"/><rect x="248.86" y="420.70" width="3.60" height="1.80" fill="#2b748d"/><rect x="253.01" y="420.70" width="3.60" height="1.80" fill="#2d6f8d"/><rect x="257.17" y="420.70" width="3.60" height="1.80" fill="#38578b"/><rect x="261.32" y="420.70" width="3.60" height="1.80" fill="#3a538a"/><rect x="228.08" y="424.90" width="3.60" height="1.80" fill="#2c738d"/><rect x="232.23" y="424.90" width="3.60" height="1.80" fill="#2c728d"/><rect x="236.39" y="424.90" width="3.60" height="1.80" fill="#21908c"/><rect x="240.54" y="424.90" width="3.60" height="1.80" fill="#22948a"/><rect x="244.70" y="424.90" width="3.60" height="1.80" fill="#289e85"/><rect x="248.86" y="424.90" width="3.60" height="1.80" fill="#27808d"/><rect x="253.01" y="424.90" width="3.60" height="1.80" fill="#2e6d8d"/><rect x="257.17" y="424.90" width="3.60" height="1.80" fill="#2b748d"/><rect x="261.32" y="424.90" width="3.60" height="1.80" fill="#33638d"/><rect x="228.08" y="429.10" width="3.60" height="1.80" fill="#2c738d"/><rect x="232.23" y="429.10" width="3.60" height="1.80" fill="#2a768d"/><rect x="236.39" y="429.10" width="3.60" height="1.80" fill="#25858c"/><rect x="240.54" y="429.10" width="3.60" height="1.80" fill="#2da97f"/><rect x="244.70" y="429.10" width="3.60" height="1.80" fill="#21908c"/><rect x="248.86" y="429.10" width="3.60" height="1.80" fill="#33b37a"/><rect x="253.01" y="429.10" width="3.60" height="1.80" fill="#23898c"/><rect x="257.17" y="429.10" width="3.60" height="1.80" fill="#2e6c8d"/><rect x="261.32" y="429.10" width="3.60" height="1.80" fill="#31688d"/><rect x="228.08" y="433.30" width="3.60" height="1.80" fill="#2b738d"/><rect x="232.23" y="433.30" width="3.60" height="1.80" fill="#289f84"/><rect x="236.39" y="433.30" width="3.60" height="1.80" fill="#37b777"/><rect x="240.54" y="433.30" width="3.60" height="1.80" fill="#2da880"/><rect x="244.70" y="433.30" width="3.60" height="1.80" fill="#33b37a"/><rect x="248.86" y="433.30" width="3.60" height="1.80" fill="#2eaa7f"/><rect x="253.01" y="433.30" width="3.60" height="1.80" fill="#259a87"/><rect x="257.17" y="433.30" width="3.60" height="1.80" fill="#23888c"/><rect x="261.32" y="433.30" width="3.60" height="1.80" fill="#365b8c"/><rect x="228.08" y="437.50" width="3.60" height="1.80" fill="#2d708d"/><rect x="232.23" y="437.50" width="3.60" height="1.80" fill="#23888c"/><rect x="236.39" y="437.50" width="3.60" height="1.80" fill="#238a8c"/><rect x="240.54" y="437.50" width="3.60" height="1.80" fill="#2ba581"/><rect x="244.70" y="437.50" width="3.60" height="1.80" fill="#24878c"/><rect x="248.86" y="437.50" width="3.60" height="1.80" fill="#30ae7d"/><rect x="253.01" y="437.50" width="3.60" height="1.80" fill="#24878c"/><rect x="257.17" y="437.50" width="3.60" height="1.80" fill="#306a8d"/><rect x="261.32" y="437.50" width="3.60" height="1.80" fill="#30688d"/><rect x="228.08" y="441.70" width="3.60" height="1.80" fill="#32658d"/><rect x="232.23" y="441.70" width="3.60" height="1.80" fill="#2d6f8d"/><rect x="236.39" y="441.70" width="3.60" height="1.80" fill="#25848c"/><rect x="240.54" y="441.70" width="3.60" height="1.80" fill="#277d8d"/><rect x="244.70" y="441.70" width="3.60" height="1.80" fill="#26808d"/><rect x="248.86" y="441.70" width="3.60" height="1.80" fill="#23948a"/><rect x="253.01" y="441.70" width="3.60" height="1.80" fill="#26818d"/><rect x="257.17" y="441.70" width="3.60" height="1.80" fill="#355e8c"/><rect x="261.32" y="441.70" width="3.60" height="1.80" fill="#33628d"/><rect x="228.08" y="445.90" width="3.60" height="1.80" fill="#3a538a"/><rect x="232.23" y="445.90" width="3.60" height="1.80" fill="#32648d"/><rect x="236.39" y="445.90" width="3.60" height="1.80" fill="#277e8d"/><rect x="240.54" y="445.90" width="3.60" height="1.80" fill="#287c8d"/><rect x="244.70" y="445.90" width="3.60" height="1.80" fill="#2c728d"/><rect x="248.86" y="445.90" width="3.60" height="1.80" fill="#2d6f8d"/><rect x="253.01" y="445.90" width="3.60" height="1.80" fill="#31678d"/><rect x="257.17" y="445.90" width="3.60" height="1.80" fill="#38568b"/><rect x="261.32" y="445.90" width="3.60" height="1.80" fill="#375a8b"/></g></g>
<rect x="268.4" y="415.3" width="37.4" height="37.8" fill="#48206f"/>
<clipPath id="tc7"><rect x="268.4" y="415.3" width="37.4" height="37.8"/></clipPath>
<g clip-path="url(#tc7)"><g filter="url(#bl5)"><ellipse cx="287.1" cy="434.2" rx="15.0" ry="16.3" fill="#2a9a8a" opacity="0.85"/><circle cx="287.1" cy="433.4" r="9.7" fill="none" stroke="#4fbd72" stroke-width="9.0" opacity="0.70"/></g></g>
<g clip-path="url(#tc7)"><g filter="url(#bl3)"><rect x="268.88" y="415.90" width="3.20" height="3.00" fill="#433780"/><rect x="273.03" y="415.90" width="3.20" height="3.00" fill="#404487"/><rect x="277.19" y="415.90" width="3.20" height="3.00" fill="#31688d"/><rect x="281.34" y="415.90" width="3.20" height="3.00" fill="#37598b"/><rect x="285.50" y="415.90" width="3.20" height="3.00" fill="#2a768d"/><rect x="289.66" y="415.90" width="3.20" height="3.00" fill="#32658d"/><rect x="293.81" y="415.90" width="3.20" height="3.00" fill="#3d4a88"/><rect x="297.97" y="415.90" width="3.20" height="3.00" fill="#3f4787"/><rect x="302.12" y="415.90" width="3.20" height="3.00" fill="#452f7b"/><rect x="268.88" y="420.10" width="3.20" height="3.00" fill="#3d4a88"/><rect x="273.03" y="420.10" width="3.20" height="3.00" fill="#39558a"/><rect x="277.19" y="420.10" width="3.20" height="3.00" fill="#2f6a8d"/><rect x="281.34" y="420.10" width="3.20" height="3.00" fill="#228d8c"/><rect x="285.50" y="420.10" width="3.20" height="3.00" fill="#4ec069"/><rect x="289.66" y="420.10" width="3.20" height="3.00" fill="#2b748d"/><rect x="293.81" y="420.10" width="3.20" height="3.00" fill="#2f6c8d"/><rect x="297.97" y="420.10" width="3.20" height="3.00" fill="#32648d"/><rect x="302.12" y="420.10" width="3.20" height="3.00" fill="#3d4c88"/><rect x="268.88" y="424.30" width="3.20" height="3.00" fill="#33618d"/><rect x="273.03" y="424.30" width="3.20" height="3.00" fill="#277d8d"/><rect x="277.19" y="424.30" width="3.20" height="3.00" fill="#82d24a"/><rect x="281.34" y="424.30" width="3.20" height="3.00" fill="#2b748d"/><rect x="285.50" y="424.30" width="3.20" height="3.00" fill="#54c266"/><rect x="289.66" y="424.30" width="3.20" height="3.00" fill="#24888c"/><rect x="293.81" y="424.30" width="3.20" height="3.00" fill="#29798d"/><rect x="297.97" y="424.30" width="3.20" height="3.00" fill="#33618d"/><rect x="302.12" y="424.30" width="3.20" height="3.00" fill="#3d4c88"/><rect x="268.88" y="428.50" width="3.20" height="3.00" fill="#287b8d"/><rect x="273.03" y="428.50" width="3.20" height="3.00" fill="#29798d"/><rect x="277.19" y="428.50" width="3.20" height="3.00" fill="#2aa382"/><rect x="281.34" y="428.50" width="3.20" height="3.00" fill="#228c8c"/><rect x="285.50" y="428.50" width="3.20" height="3.00" fill="#2c728d"/><rect x="289.66" y="428.50" width="3.20" height="3.00" fill="#228e8c"/><rect x="293.81" y="428.50" width="3.20" height="3.00" fill="#2b758d"/><rect x="297.97" y="428.50" width="3.20" height="3.00" fill="#31688d"/><rect x="302.12" y="428.50" width="3.20" height="3.00" fill="#3a518a"/><rect x="268.88" y="432.70" width="3.20" height="3.00" fill="#29788d"/><rect x="273.03" y="432.70" width="3.20" height="3.00" fill="#228c8c"/><rect x="277.19" y="432.70" width="3.20" height="3.00" fill="#25848c"/><rect x="281.34" y="432.70" width="3.20" height="3.00" fill="#277d8d"/><rect x="285.50" y="432.70" width="3.20" height="3.00" fill="#31678d"/><rect x="289.66" y="432.70" width="3.20" height="3.00" fill="#2a768d"/><rect x="293.81" y="432.70" width="3.20" height="3.00" fill="#48bd6d"/><rect x="297.97" y="432.70" width="3.20" height="3.00" fill="#249888"/><rect x="302.12" y="432.70" width="3.20" height="3.00" fill="#39558a"/><rect x="268.88" y="436.90" width="3.20" height="3.00" fill="#2f6a8d"/><rect x="273.03" y="436.90" width="3.20" height="3.00" fill="#228d8c"/><rect x="277.19" y="436.90" width="3.20" height="3.00" fill="#5cc461"/><rect x="281.34" y="436.90" width="3.20" height="3.00" fill="#279d85"/><rect x="285.50" y="436.90" width="3.20" height="3.00" fill="#2b758d"/><rect x="289.66" y="436.90" width="3.20" height="3.00" fill="#55c265"/><rect x="293.81" y="436.90" width="3.20" height="3.00" fill="#29788d"/><rect x="297.97" y="436.90" width="3.20" height="3.00" fill="#287b8d"/><rect x="302.12" y="436.90" width="3.20" height="3.00" fill="#33618d"/><rect x="268.88" y="441.10" width="3.20" height="3.00" fill="#3d4b88"/><rect x="273.03" y="441.10" width="3.20" height="3.00" fill="#29798d"/><rect x="277.19" y="441.10" width="3.20" height="3.00" fill="#2e6e8d"/><rect x="281.34" y="441.10" width="3.20" height="3.00" fill="#31b07c"/><rect x="285.50" y="441.10" width="3.20" height="3.00" fill="#3fba73"/><rect x="289.66" y="441.10" width="3.20" height="3.00" fill="#2aa382"/><rect x="293.81" y="441.10" width="3.20" height="3.00" fill="#32b17b"/><rect x="297.97" y="441.10" width="3.20" height="3.00" fill="#32648d"/><rect x="302.12" y="441.10" width="3.20" height="3.00" fill="#3b5089"/><rect x="268.88" y="445.30" width="3.20" height="3.00" fill="#404687"/><rect x="273.03" y="445.30" width="3.20" height="3.00" fill="#34608d"/><rect x="277.19" y="445.30" width="3.20" height="3.00" fill="#2b748d"/><rect x="281.34" y="445.30" width="3.20" height="3.00" fill="#29a183"/><rect x="285.50" y="445.30" width="3.20" height="3.00" fill="#33b37a"/><rect x="289.66" y="445.30" width="3.20" height="3.00" fill="#277f8d"/><rect x="293.81" y="445.30" width="3.20" height="3.00" fill="#2a768d"/><rect x="297.97" y="445.30" width="3.20" height="3.00" fill="#404587"/><rect x="302.12" y="445.30" width="3.20" height="3.00" fill="#413f84"/><rect x="268.88" y="449.50" width="3.20" height="3.00" fill="#44357e"/><rect x="273.03" y="449.50" width="3.20" height="3.00" fill="#3d4b88"/><rect x="277.19" y="449.50" width="3.20" height="3.00" fill="#365b8c"/><rect x="281.34" y="449.50" width="3.20" height="3.00" fill="#39558a"/><rect x="285.50" y="449.50" width="3.20" height="3.00" fill="#365b8c"/><rect x="289.66" y="449.50" width="3.20" height="3.00" fill="#345f8d"/><rect x="293.81" y="449.50" width="3.20" height="3.00" fill="#423f84"/><rect x="297.97" y="449.50" width="3.20" height="3.00" fill="#423b82"/><rect x="302.12" y="449.50" width="3.20" height="3.00" fill="#462c79"/></g></g>
<rect x="308.9" y="415.3" width="37.4" height="37.8" fill="#482878"/>
<clipPath id="tc8"><rect x="308.9" y="415.3" width="37.4" height="37.8"/></clipPath>
<g clip-path="url(#tc8)"><g filter="url(#bl5)"><circle cx="325.7" cy="433.1" r="10.5" fill="none" stroke="#55c668" stroke-width="9.7" opacity="0.85"/></g></g>
<g clip-path="url(#tc8)"><g filter="url(#bl4)"><rect x="308.30" y="415.30" width="1.80" height="4.20" fill="#414185"/><rect x="308.90" y="416.30" width="4.16" height="2.20" fill="#3f4787"/><rect x="312.46" y="415.30" width="1.80" height="4.20" fill="#355d8c"/><rect x="313.06" y="416.30" width="4.16" height="2.20" fill="#2f6a8d"/><rect x="316.61" y="415.30" width="1.80" height="4.20" fill="#2f6c8d"/><rect x="317.21" y="416.30" width="4.16" height="2.20" fill="#287c8d"/><rect x="320.77" y="415.30" width="1.80" height="4.20" fill="#277f8d"/><rect x="321.37" y="416.30" width="4.16" height="2.20" fill="#22948a"/><rect x="324.92" y="415.30" width="1.80" height="4.20" fill="#29788d"/><rect x="325.52" y="416.30" width="4.16" height="2.20" fill="#238a8c"/><rect x="329.08" y="415.30" width="1.80" height="4.20" fill="#2d6f8d"/><rect x="329.68" y="416.30" width="4.16" height="2.20" fill="#277f8d"/><rect x="333.23" y="415.30" width="1.80" height="4.20" fill="#34608d"/><rect x="333.83" y="416.30" width="4.16" height="2.20" fill="#2e6e8d"/><rect x="337.39" y="415.30" width="1.80" height="4.20" fill="#414386"/><rect x="337.99" y="416.30" width="4.16" height="2.20" fill="#3e4a88"/><rect x="308.30" y="419.50" width="1.80" height="4.20" fill="#365b8c"/><rect x="308.90" y="420.50" width="4.16" height="2.20" fill="#31678d"/><rect x="312.46" y="419.50" width="1.80" height="4.20" fill="#277d8d"/><rect x="313.06" y="420.50" width="4.16" height="2.20" fill="#21918b"/><rect x="316.61" y="419.50" width="1.80" height="4.20" fill="#22948a"/><rect x="317.21" y="420.50" width="4.16" height="2.20" fill="#42bb70"/><rect x="320.77" y="419.50" width="1.80" height="4.20" fill="#239689"/><rect x="321.37" y="420.50" width="4.16" height="2.20" fill="#46bd6e"/><rect x="324.92" y="419.50" width="1.80" height="4.20" fill="#2da880"/><rect x="325.52" y="420.50" width="4.16" height="2.20" fill="#78ce50"/><rect x="329.08" y="419.50" width="1.80" height="4.20" fill="#228d8c"/><rect x="329.68" y="420.50" width="4.16" height="2.20" fill="#32b27b"/><rect x="333.23" y="419.50" width="1.80" height="4.20" fill="#277d8d"/><rect x="333.83" y="420.50" width="4.16" height="2.20" fill="#21918b"/><rect x="337.39" y="419.50" width="1.80" height="4.20" fill="#365b8c"/><rect x="337.99" y="420.50" width="4.16" height="2.20" fill="#31678d"/><rect x="341.54" y="419.50" width="1.80" height="4.20" fill="#423f84"/><rect x="342.14" y="420.50" width="4.16" height="2.20" fill="#404587"/><rect x="308.30" y="423.70" width="1.80" height="4.20" fill="#2b738d"/><rect x="308.90" y="424.70" width="4.16" height="2.20" fill="#25848c"/><rect x="312.46" y="423.70" width="1.80" height="4.20" fill="#29a183"/><rect x="313.06" y="424.70" width="4.16" height="2.20" fill="#66c85b"/><rect x="316.61" y="423.70" width="1.80" height="4.20" fill="#259987"/><rect x="317.21" y="424.70" width="4.16" height="2.20" fill="#4fc069"/><rect x="320.77" y="423.70" width="1.80" height="4.20" fill="#25858c"/><rect x="321.37" y="424.70" width="4.16" height="2.20" fill="#29a183"/><rect x="324.92" y="423.70" width="1.80" height="4.20" fill="#24868c"/><rect x="325.52" y="424.70" width="4.16" height="2.20" fill="#2aa382"/><rect x="329.08" y="423.70" width="1.80" height="4.20" fill="#2da880"/><rect x="329.68" y="424.70" width="4.16" height="2.20" fill="#79ce50"/><rect x="333.23" y="423.70" width="1.80" height="4.20" fill="#218f8c"/><rect x="333.83" y="424.70" width="4.16" height="2.20" fill="#33b47a"/><rect x="337.39" y="423.70" width="1.80" height="4.20" fill="#297a8d"/><rect x="337.99" y="424.70" width="4.16" height="2.20" fill="#228c8c"/><rect x="341.54" y="423.70" width="1.80" height="4.20" fill="#3c4f89"/><rect x="342.14" y="424.70" width="4.16" height="2.20" fill="#38588b"/><rect x="308.30" y="427.90" width="1.80" height="4.20" fill="#25858c"/><rect x="308.90" y="428.90" width="4.16" height="2.20" fill="#29a084"/><rect x="312.46" y="427.90" width="1.80" height="4.20" fill="#269b86"/><rect x="313.06" y="428.90" width="4.16" height="2.20" fill="#55c265"/><rect x="316.61" y="427.90" width="1.80" height="4.20" fill="#238a8c"/><rect x="317.21" y="428.90" width="4.16" height="2.20" fill="#2eaa7f"/><rect x="320.77" y="427.90" width="1.80" height="4.20" fill="#32638d"/><rect x="321.37" y="428.90" width="4.16" height="2.20" fill="#2c728d"/><rect x="324.92" y="427.90" width="1.80" height="4.20" fill="#33628d"/><rect x="325.52" y="428.90" width="4.16" height="2.20" fill="#2d708d"/><rect x="329.08" y="427.90" width="1.80" height="4.20" fill="#23898c"/><rect x="329.68" y="428.90" width="4.16" height="2.20" fill="#2da97f"/><rect x="333.23" y="427.90" width="1.80" height="4.20" fill="#2aa283"/><rect x="333.83" y="428.90" width="4.16" height="2.20" fill="#68c85a"/><rect x="337.39" y="427.90" width="1.80" height="4.20" fill="#26818d"/><rect x="337.99" y="428.90" width="4.16" height="2.20" fill="#259987"/><rect x="341.54" y="427.90" width="1.80" height="4.20" fill="#38578b"/><rect x="342.14" y="428.90" width="4.16" height="2.20" fill="#33628d"/><rect x="308.30" y="432.10" width="1.80" height="4.20" fill="#228b8c"/><rect x="308.90" y="433.10" width="4.16" height="2.20" fill="#30ad7d"/><rect x="312.46" y="432.10" width="1.80" height="4.20" fill="#289f84"/><rect x="313.06" y="433.10" width="4.16" height="2.20" fill="#61c65e"/><rect x="316.61" y="432.10" width="1.80" height="4.20" fill="#277e8d"/><rect x="317.21" y="433.10" width="4.16" height="2.20" fill="#21918b"/><rect x="320.77" y="432.10" width="1.80" height="4.20" fill="#37598b"/><rect x="321.37" y="433.10" width="4.16" height="2.20" fill="#32658d"/><rect x="324.92" y="432.10" width="1.80" height="4.20" fill="#3a538a"/><rect x="325.52" y="433.10" width="4.16" height="2.20" fill="#355d8c"/><rect x="329.08" y="432.10" width="1.80" height="4.20" fill="#26808d"/><rect x="329.68" y="433.10" width="4.16" height="2.20" fill="#249788"/><rect x="333.23" y="432.10" width="1.80" height="4.20" fill="#2ea97f"/><rect x="333.83" y="433.10" width="4.16" height="2.20" fill="#7dd04e"/><rect x="337.39" y="432.10" width="1.80" height="4.20" fill="#24868c"/><rect x="337.99" y="433.10" width="4.16" height="2.20" fill="#2aa283"/><rect x="341.54" y="432.10" width="1.80" height="4.20" fill="#365b8c"/><rect x="342.14" y="433.10" width="4.16" height="2.20" fill="#31688d"/><rect x="308.30" y="436.30" width="1.80" height="4.20" fill="#26818d"/><rect x="308.90" y="437.30" width="4.16" height="2.20" fill="#259888"/><rect x="312.46" y="436.30" width="1.80" height="4.20" fill="#22938a"/><rect x="313.06" y="437.30" width="4.16" height="2.20" fill="#3fba72"/><rect x="316.61" y="436.30" width="1.80" height="4.20" fill="#249888"/><rect x="317.21" y="437.30" width="4.16" height="2.20" fill="#4cbf6b"/><rect x="320.77" y="436.30" width="1.80" height="4.20" fill="#2b758d"/><rect x="321.37" y="437.30" width="4.16" height="2.20" fill="#24868c"/><rect x="324.92" y="436.30" width="1.80" height="4.20" fill="#297a8d"/><rect x="325.52" y="437.30" width="4.16" height="2.20" fill="#228d8c"/><rect x="329.08" y="436.30" width="1.80" height="4.20" fill="#21928b"/><rect x="329.68" y="437.30" width="4.16" height="2.20" fill="#3db974"/><rect x="333.23" y="436.30" width="1.80" height="4.20" fill="#2fab7e"/><rect x="333.83" y="437.30" width="4.16" height="2.20" fill="#82d24b"/><rect x="337.39" y="436.30" width="1.80" height="4.20" fill="#25858c"/><rect x="337.99" y="437.30" width="4.16" height="2.20" fill="#29a084"/><rect x="341.54" y="436.30" width="1.80" height="4.20" fill="#39558a"/><rect x="342.14" y="437.30" width="4.16" height="2.20" fill="#34608d"/><rect x="308.30" y="440.50" width="1.80" height="4.20" fill="#32658d"/><rect x="308.90" y="441.50" width="4.16" height="2.20" fill="#2b738d"/><rect x="312.46" y="440.50" width="1.80" height="4.20" fill="#25858c"/><rect x="313.06" y="441.50" width="4.16" height="2.20" fill="#29a183"/><rect x="316.61" y="440.50" width="1.80" height="4.20" fill="#28a084"/><rect x="317.21" y="441.50" width="4.16" height="2.20" fill="#62c65e"/><rect x="320.77" y="440.50" width="1.80" height="4.20" fill="#279d85"/><rect x="321.37" y="441.50" width="4.16" height="2.20" fill="#5ac462"/><rect x="324.92" y="440.50" width="1.80" height="4.20" fill="#21908c"/><rect x="325.52" y="441.50" width="4.16" height="2.20" fill="#37b777"/><rect x="329.08" y="440.50" width="1.80" height="4.20" fill="#2eab7e"/><rect x="329.68" y="441.50" width="4.16" height="2.20" fill="#80d14c"/><rect x="333.23" y="440.50" width="1.80" height="4.20" fill="#228d8c"/><rect x="333.83" y="441.50" width="4.16" height="2.20" fill="#32b17b"/><rect x="337.39" y="440.50" width="1.80" height="4.20" fill="#2e6e8d"/><rect x="337.99" y="441.50" width="4.16" height="2.20" fill="#277e8d"/><rect x="341.54" y="440.50" width="1.80" height="4.20" fill="#3f4687"/><rect x="342.14" y="441.50" width="4.16" height="2.20" fill="#3c4d89"/><rect x="308.30" y="444.70" width="1.80" height="4.20" fill="#3d4c88"/><rect x="308.90" y="445.70" width="4.16" height="2.20" fill="#39548a"/><rect x="312.46" y="444.70" width="1.80" height="4.20" fill="#31668d"/><rect x="313.06" y="445.70" width="4.16" height="2.20" fill="#2b758d"/><rect x="316.61" y="444.70" width="1.80" height="4.20" fill="#26818d"/><rect x="317.21" y="445.70" width="4.16" height="2.20" fill="#249788"/><rect x="320.77" y="444.70" width="1.80" height="4.20" fill="#238a8c"/><rect x="321.37" y="445.70" width="4.16" height="2.20" fill="#2fab7e"/><rect x="324.92" y="444.70" width="1.80" height="4.20" fill="#228d8c"/><rect x="325.52" y="445.70" width="4.16" height="2.20" fill="#32b17b"/><rect x="329.08" y="444.70" width="1.80" height="4.20" fill="#25838d"/><rect x="329.68" y="445.70" width="4.16" height="2.20" fill="#269c86"/><rect x="333.23" y="444.70" width="1.80" height="4.20" fill="#2c728d"/><rect x="333.83" y="445.70" width="4.16" height="2.20" fill="#26828d"/><rect x="337.39" y="444.70" width="1.80" height="4.20" fill="#3a538a"/><rect x="337.99" y="445.70" width="4.16" height="2.20" fill="#355d8c"/><rect x="341.54" y="444.70" width="1.80" height="4.20" fill="#44357f"/><rect x="342.14" y="445.70" width="4.16" height="2.20" fill="#433a81"/><rect x="308.30" y="448.90" width="1.80" height="4.20" fill="#44357f"/><rect x="308.90" y="449.90" width="4.16" height="2.20" fill="#433a81"/><rect x="312.46" y="448.90" width="1.80" height="4.20" fill="#3f4787"/><rect x="313.06" y="449.90" width="4.16" height="2.20" fill="#3c4e89"/><rect x="316.61" y="448.90" width="1.80" height="4.20" fill="#365a8c"/><rect x="317.21" y="449.90" width="4.16" height="2.20" fill="#31668d"/><rect x="320.77" y="448.90" width="1.80" height="4.20" fill="#30688d"/><rect x="321.37" y="449.90" width="4.16" height="2.20" fill="#2a778d"/><rect x="324.92" y="448.90" width="1.80" height="4.20" fill="#33618d"/><rect x="325.52" y="449.90" width="4.16" height="2.20" fill="#2d6f8d"/><rect x="329.08" y="448.90" width="1.80" height="4.20" fill="#355c8c"/><rect x="329.68" y="449.90" width="4.16" height="2.20" fill="#30698d"/><rect x="333.23" y="448.90" width="1.80" height="4.20" fill="#3e4988"/><rect x="333.83" y="449.90" width="4.16" height="2.20" fill="#3b5089"/><rect x="337.39" y="448.90" width="1.80" height="4.20" fill="#44367f"/><rect x="337.99" y="449.90" width="4.16" height="2.20" fill="#433a81"/></g></g>
<rect x="349.4" y="415.3" width="37.4" height="37.8" fill="#46307e"/>
<clipPath id="tc9"><rect x="349.4" y="415.3" width="37.4" height="37.8"/></clipPath>
<g clip-path="url(#tc9)"><g filter="url(#bl3)"><rect x="357.99" y="429.10" width="3.60" height="1.80" fill="#452e7b"/><rect x="362.14" y="429.10" width="3.60" height="1.80" fill="#44367f"/><rect x="366.30" y="429.10" width="3.60" height="1.80" fill="#433780"/><rect x="370.46" y="429.10" width="3.60" height="1.80" fill="#43367f"/><rect x="374.61" y="429.10" width="3.60" height="1.80" fill="#44357e"/><rect x="349.68" y="433.30" width="3.60" height="1.80" fill="#462c79"/><rect x="353.83" y="433.30" width="3.60" height="1.80" fill="#452f7b"/><rect x="357.99" y="433.30" width="3.60" height="1.80" fill="#414185"/><rect x="362.14" y="433.30" width="3.60" height="1.80" fill="#3c4f89"/><rect x="366.30" y="433.30" width="3.60" height="1.80" fill="#3f4787"/><rect x="370.46" y="433.30" width="3.60" height="1.80" fill="#3c4d89"/><rect x="374.61" y="433.30" width="3.60" height="1.80" fill="#3e4a88"/><rect x="378.77" y="433.30" width="3.60" height="1.80" fill="#45307b"/><rect x="353.83" y="437.50" width="3.60" height="1.80" fill="#433981"/><rect x="357.99" y="437.50" width="3.60" height="1.80" fill="#3a518a"/><rect x="362.14" y="437.50" width="3.60" height="1.80" fill="#3b4f89"/><rect x="366.30" y="437.50" width="3.60" height="1.80" fill="#3c4d89"/><rect x="370.46" y="437.50" width="3.60" height="1.80" fill="#3d4b88"/><rect x="374.61" y="437.50" width="3.60" height="1.80" fill="#3e4a88"/><rect x="378.77" y="437.50" width="3.60" height="1.80" fill="#44327c"/><rect x="353.83" y="441.70" width="3.60" height="1.80" fill="#43377f"/><rect x="357.99" y="441.70" width="3.60" height="1.80" fill="#423e84"/><rect x="362.14" y="441.70" width="3.60" height="1.80" fill="#3e4988"/><rect x="366.30" y="441.70" width="3.60" height="1.80" fill="#3a538a"/><rect x="370.46" y="441.70" width="3.60" height="1.80" fill="#414286"/><rect x="374.61" y="441.70" width="3.60" height="1.80" fill="#414185"/><rect x="378.77" y="441.70" width="3.60" height="1.80" fill="#452f7b"/><rect x="357.99" y="445.90" width="3.60" height="1.80" fill="#45307b"/><rect x="362.14" y="445.90" width="3.60" height="1.80" fill="#43367f"/><rect x="366.30" y="445.90" width="3.60" height="1.80" fill="#44337d"/><rect x="370.46" y="445.90" width="3.60" height="1.80" fill="#44327d"/><rect x="374.61" y="445.90" width="3.60" height="1.80" fill="#44337d"/><rect x="378.77" y="445.90" width="3.60" height="1.80" fill="#462c79"/></g></g>
<rect x="410.2" y="374.6" width="36.6" height="36.4" fill="#48186a"/>
<clipPath id="tc10"><rect x="410.2" y="374.6" width="36.6" height="36.4"/></clipPath>
<g clip-path="url(#tc10)"><g filter="url(#bl5)"><ellipse cx="427.4" cy="392.8" rx="5.9" ry="3.6" fill="#35a682" opacity="0.50"/></g></g>
<g clip-path="url(#tc10)"><g filter="url(#bl4)"><rect x="434.00" y="374.60" width="1.80" height="4.04" fill="#414386"/><rect x="434.60" y="375.52" width="4.07" height="2.20" fill="#3e4988"/><rect x="438.07" y="374.60" width="1.80" height="4.04" fill="#3f4687"/><rect x="438.67" y="375.52" width="4.07" height="2.20" fill="#3c4d89"/><rect x="438.07" y="378.64" width="1.80" height="4.04" fill="#3c4f89"/><rect x="438.67" y="379.57" width="4.07" height="2.20" fill="#38588b"/><rect x="417.73" y="382.69" width="1.80" height="4.04" fill="#423c82"/><rect x="418.33" y="383.61" width="4.07" height="2.20" fill="#414285"/><rect x="421.80" y="382.69" width="1.80" height="4.04" fill="#423b82"/><rect x="422.40" y="383.61" width="4.07" height="2.20" fill="#414185"/><rect x="425.87" y="382.69" width="1.80" height="4.04" fill="#423c82"/><rect x="426.47" y="383.61" width="4.07" height="2.20" fill="#414285"/><rect x="417.73" y="386.73" width="1.80" height="4.04" fill="#3e4988"/><rect x="418.33" y="387.66" width="4.07" height="2.20" fill="#3b5189"/><rect x="421.80" y="386.73" width="1.80" height="4.04" fill="#30698d"/><rect x="422.40" y="387.66" width="4.07" height="2.20" fill="#29788d"/><rect x="425.87" y="386.73" width="1.80" height="4.04" fill="#31668d"/><rect x="426.47" y="387.66" width="4.07" height="2.20" fill="#2a758d"/><rect x="429.93" y="386.73" width="1.80" height="4.04" fill="#39548a"/><rect x="430.53" y="387.66" width="4.07" height="2.20" fill="#345f8d"/><rect x="434.00" y="386.73" width="1.80" height="4.04" fill="#413f84"/><rect x="434.60" y="387.66" width="4.07" height="2.20" fill="#404587"/><rect x="442.13" y="386.73" width="1.80" height="4.04" fill="#43377f"/><rect x="442.73" y="387.66" width="4.07" height="2.20" fill="#423c82"/><rect x="413.67" y="390.78" width="1.80" height="4.04" fill="#433780"/><rect x="414.27" y="391.70" width="4.07" height="2.20" fill="#423c82"/><rect x="417.73" y="390.78" width="1.80" height="4.04" fill="#345f8d"/><rect x="418.33" y="391.70" width="4.07" height="2.20" fill="#2f6c8d"/><rect x="421.80" y="390.78" width="1.80" height="4.04" fill="#218f8c"/><rect x="422.40" y="391.70" width="4.07" height="2.20" fill="#33b47a"/><rect x="425.87" y="390.78" width="1.80" height="4.04" fill="#23898c"/><rect x="426.47" y="391.70" width="4.07" height="2.20" fill="#2da880"/><rect x="429.93" y="390.78" width="1.80" height="4.04" fill="#297a8d"/><rect x="430.53" y="391.70" width="4.07" height="2.20" fill="#228c8c"/><rect x="434.00" y="390.78" width="1.80" height="4.04" fill="#3e4a88"/><rect x="434.60" y="391.70" width="4.07" height="2.20" fill="#3a518a"/><rect x="417.73" y="394.82" width="1.80" height="4.04" fill="#3d4b88"/><rect x="418.33" y="395.74" width="4.07" height="2.20" fill="#39538a"/><rect x="421.80" y="394.82" width="1.80" height="4.04" fill="#32658d"/><rect x="422.40" y="395.74" width="4.07" height="2.20" fill="#2b748d"/><rect x="425.87" y="394.82" width="1.80" height="4.04" fill="#2d708d"/><rect x="426.47" y="395.74" width="4.07" height="2.20" fill="#26818d"/><rect x="429.93" y="394.82" width="1.80" height="4.04" fill="#39548a"/><rect x="430.53" y="395.74" width="4.07" height="2.20" fill="#355e8c"/><rect x="434.00" y="394.82" width="1.80" height="4.04" fill="#414085"/><rect x="434.60" y="395.74" width="4.07" height="2.20" fill="#3f4787"/><rect x="421.80" y="398.87" width="1.80" height="4.04" fill="#43377f"/><rect x="422.40" y="399.79" width="4.07" height="2.20" fill="#423b82"/><rect x="425.87" y="398.87" width="1.80" height="4.04" fill="#423c82"/><rect x="426.47" y="399.79" width="4.07" height="2.20" fill="#414286"/><rect x="429.93" y="398.87" width="1.80" height="4.04" fill="#44357e"/><rect x="430.53" y="399.79" width="4.07" height="2.20" fill="#433981"/></g></g>
<rect x="450.2" y="374.6" width="36.6" height="36.4" fill="#481c6e"/>
<clipPath id="tc11"><rect x="450.2" y="374.6" width="36.6" height="36.4"/></clipPath>
<g clip-path="url(#tc11)"><g filter="url(#bl5)"><ellipse cx="467.8" cy="392.1" rx="9.5" ry="8.0" fill="#3fb07a" opacity="0.70"/></g></g>
<g clip-path="url(#tc11)"><g filter="url(#bl4)"><rect x="474.00" y="374.60" width="1.80" height="4.04" fill="#433880"/><rect x="474.60" y="375.52" width="4.07" height="2.20" fill="#423d83"/><rect x="478.07" y="374.60" width="1.80" height="4.04" fill="#37598b"/><rect x="478.67" y="375.52" width="4.07" height="2.20" fill="#32648d"/><rect x="457.73" y="378.64" width="1.80" height="4.04" fill="#44357f"/><rect x="458.33" y="379.57" width="4.07" height="2.20" fill="#433a81"/><rect x="461.80" y="378.64" width="1.80" height="4.04" fill="#3d4b88"/><rect x="462.40" y="379.57" width="4.07" height="2.20" fill="#39548a"/><rect x="465.87" y="378.64" width="1.80" height="4.04" fill="#3f4887"/><rect x="466.47" y="379.57" width="4.07" height="2.20" fill="#3b4f89"/><rect x="469.93" y="378.64" width="1.80" height="4.04" fill="#3f4687"/><rect x="470.53" y="379.57" width="4.07" height="2.20" fill="#3c4d89"/><rect x="474.00" y="378.64" width="1.80" height="4.04" fill="#3a528a"/><rect x="474.60" y="379.57" width="4.07" height="2.20" fill="#365c8c"/><rect x="478.07" y="378.64" width="1.80" height="4.04" fill="#33628d"/><rect x="478.67" y="379.57" width="4.07" height="2.20" fill="#2d708d"/><rect x="482.13" y="378.64" width="1.80" height="4.04" fill="#433a81"/><rect x="482.73" y="379.57" width="4.07" height="2.20" fill="#413f84"/><rect x="453.67" y="382.69" width="1.80" height="4.04" fill="#433981"/><rect x="454.27" y="383.61" width="4.07" height="2.20" fill="#423f84"/><rect x="457.73" y="382.69" width="1.80" height="4.04" fill="#355e8c"/><rect x="458.33" y="383.61" width="4.07" height="2.20" fill="#2f6b8d"/><rect x="461.80" y="382.69" width="1.80" height="4.04" fill="#31668d"/><rect x="462.40" y="383.61" width="4.07" height="2.20" fill="#2b758d"/><rect x="465.87" y="382.69" width="1.80" height="4.04" fill="#2d708d"/><rect x="466.47" y="383.61" width="4.07" height="2.20" fill="#26808d"/><rect x="469.93" y="382.69" width="1.80" height="4.04" fill="#2c738d"/><rect x="470.53" y="383.61" width="4.07" height="2.20" fill="#25848d"/><rect x="474.00" y="382.69" width="1.80" height="4.04" fill="#365c8c"/><rect x="474.60" y="383.61" width="4.07" height="2.20" fill="#30698d"/><rect x="478.07" y="382.69" width="1.80" height="4.04" fill="#3c4d89"/><rect x="478.67" y="383.61" width="4.07" height="2.20" fill="#39558a"/><rect x="453.67" y="386.73" width="1.80" height="4.04" fill="#414386"/><rect x="454.27" y="387.66" width="4.07" height="2.20" fill="#3e4988"/><rect x="457.73" y="386.73" width="1.80" height="4.04" fill="#2d6f8d"/><rect x="458.33" y="387.66" width="4.07" height="2.20" fill="#277f8d"/><rect x="461.80" y="386.73" width="1.80" height="4.04" fill="#277f8d"/><rect x="462.40" y="387.66" width="4.07" height="2.20" fill="#239589"/><rect x="465.87" y="386.73" width="1.80" height="4.04" fill="#29a183"/><rect x="466.47" y="387.66" width="4.07" height="2.20" fill="#67c85b"/><rect x="469.93" y="386.73" width="1.80" height="4.04" fill="#26818d"/><rect x="470.53" y="387.66" width="4.07" height="2.20" fill="#249888"/><rect x="474.00" y="386.73" width="1.80" height="4.04" fill="#31668d"/><rect x="474.60" y="387.66" width="4.07" height="2.20" fill="#2b758d"/><rect x="478.07" y="386.73" width="1.80" height="4.04" fill="#3e4988"/><rect x="478.67" y="387.66" width="4.07" height="2.20" fill="#3b5089"/><rect x="453.67" y="390.78" width="1.80" height="4.04" fill="#404587"/><rect x="454.27" y="391.70" width="4.07" height="2.20" fill="#3d4c88"/><rect x="457.73" y="390.78" width="1.80" height="4.04" fill="#2e6e8d"/><rect x="458.33" y="391.70" width="4.07" height="2.20" fill="#277e8d"/><rect x="461.80" y="390.78" width="1.80" height="4.04" fill="#249888"/><rect x="462.40" y="391.70" width="4.07" height="2.20" fill="#4cbf6b"/><rect x="465.87" y="390.78" width="1.80" height="4.04" fill="#269b86"/><rect x="466.47" y="391.70" width="4.07" height="2.20" fill="#55c265"/><rect x="469.93" y="390.78" width="1.80" height="4.04" fill="#218f8c"/><rect x="470.53" y="391.70" width="4.07" height="2.20" fill="#33b47a"/><rect x="474.00" y="390.78" width="1.80" height="4.04" fill="#2c718d"/><rect x="474.60" y="391.70" width="4.07" height="2.20" fill="#26828d"/><rect x="478.07" y="390.78" width="1.80" height="4.04" fill="#404587"/><rect x="478.67" y="391.70" width="4.07" height="2.20" fill="#3d4c88"/><rect x="453.67" y="394.82" width="1.80" height="4.04" fill="#423c83"/><rect x="454.27" y="395.74" width="4.07" height="2.20" fill="#414386"/><rect x="457.73" y="394.82" width="1.80" height="4.04" fill="#39558a"/><rect x="458.33" y="395.74" width="4.07" height="2.20" fill="#345f8d"/><rect x="461.80" y="394.82" width="1.80" height="4.04" fill="#2f6b8d"/><rect x="462.40" y="395.74" width="4.07" height="2.20" fill="#287b8d"/><rect x="465.87" y="394.82" width="1.80" height="4.04" fill="#2a768d"/><rect x="466.47" y="395.74" width="4.07" height="2.20" fill="#24888c"/><rect x="469.93" y="394.82" width="1.80" height="4.04" fill="#2c738d"/><rect x="470.53" y="395.74" width="4.07" height="2.20" fill="#25848d"/><rect x="474.00" y="394.82" width="1.80" height="4.04" fill="#3b5089"/><rect x="474.60" y="395.74" width="4.07" height="2.20" fill="#37598b"/><rect x="478.07" y="394.82" width="1.80" height="4.04" fill="#423e83"/><rect x="478.67" y="395.74" width="4.07" height="2.20" fill="#404487"/><rect x="457.73" y="398.87" width="1.80" height="4.04" fill="#423b82"/><rect x="458.33" y="399.79" width="4.07" height="2.20" fill="#414185"/><rect x="461.80" y="398.87" width="1.80" height="4.04" fill="#38578b"/><rect x="462.40" y="399.79" width="4.07" height="2.20" fill="#33628d"/><rect x="465.87" y="398.87" width="1.80" height="4.04" fill="#3e4988"/><rect x="466.47" y="399.79" width="4.07" height="2.20" fill="#3b5189"/><rect x="469.93" y="398.87" width="1.80" height="4.04" fill="#404587"/><rect x="470.53" y="399.79" width="4.07" height="2.20" fill="#3d4c88"/><rect x="474.00" y="398.87" width="1.80" height="4.04" fill="#423b82"/><rect x="474.60" y="399.79" width="4.07" height="2.20" fill="#414185"/><rect x="465.87" y="402.91" width="1.80" height="4.04" fill="#44347e"/><rect x="466.47" y="403.83" width="4.07" height="2.20" fill="#433880"/><rect x="453.67" y="406.96" width="1.80" height="4.04" fill="#423b82"/><rect x="454.27" y="407.88" width="4.07" height="2.20" fill="#414185"/></g></g>
<rect x="490.3" y="374.6" width="36.6" height="36.4" fill="#473a84"/>
<clipPath id="tc12"><rect x="490.3" y="374.6" width="36.6" height="36.4"/></clipPath>
<g clip-path="url(#tc12)"><g filter="url(#bl5)"><ellipse cx="508.6" cy="392.8" rx="5.9" ry="3.6" fill="#35a682" opacity="0.50"/></g></g>
<g clip-path="url(#tc12)"><g filter="url(#bl4)"><rect x="501.90" y="382.69" width="1.80" height="4.04" fill="#43367f"/><rect x="502.50" y="383.61" width="4.07" height="2.20" fill="#423b82"/><rect x="505.97" y="382.69" width="1.80" height="4.04" fill="#423e83"/><rect x="506.57" y="383.61" width="4.07" height="2.20" fill="#404487"/><rect x="510.03" y="382.69" width="1.80" height="4.04" fill="#44347e"/><rect x="510.63" y="383.61" width="4.07" height="2.20" fill="#433880"/><rect x="497.83" y="386.73" width="1.80" height="4.04" fill="#3f4887"/><rect x="498.43" y="387.66" width="4.07" height="2.20" fill="#3b4f89"/><rect x="501.90" y="386.73" width="1.80" height="4.04" fill="#365a8c"/><rect x="502.50" y="387.66" width="4.07" height="2.20" fill="#31668d"/><rect x="505.97" y="386.73" width="1.80" height="4.04" fill="#2e6d8d"/><rect x="506.57" y="387.66" width="4.07" height="2.20" fill="#277e8d"/><rect x="510.03" y="386.73" width="1.80" height="4.04" fill="#365b8c"/><rect x="510.63" y="387.66" width="4.07" height="2.20" fill="#31678d"/><rect x="514.10" y="386.73" width="1.80" height="4.04" fill="#414386"/><rect x="514.70" y="387.66" width="4.07" height="2.20" fill="#3e4988"/><rect x="497.83" y="390.78" width="1.80" height="4.04" fill="#3c4f89"/><rect x="498.43" y="391.70" width="4.07" height="2.20" fill="#37588b"/><rect x="501.90" y="390.78" width="1.80" height="4.04" fill="#25838d"/><rect x="502.50" y="391.70" width="4.07" height="2.20" fill="#279d85"/><rect x="505.97" y="390.78" width="1.80" height="4.04" fill="#218f8c"/><rect x="506.57" y="391.70" width="4.07" height="2.20" fill="#33b47a"/><rect x="510.03" y="390.78" width="1.80" height="4.04" fill="#287b8d"/><rect x="510.63" y="391.70" width="4.07" height="2.20" fill="#228d8c"/><rect x="514.10" y="390.78" width="1.80" height="4.04" fill="#39548a"/><rect x="514.70" y="391.70" width="4.07" height="2.20" fill="#355e8c"/><rect x="518.17" y="390.78" width="1.80" height="4.04" fill="#44337d"/><rect x="518.77" y="391.70" width="4.07" height="2.20" fill="#43377f"/><rect x="497.83" y="394.82" width="1.80" height="4.04" fill="#3e4888"/><rect x="498.43" y="395.74" width="4.07" height="2.20" fill="#3b4f89"/><rect x="501.90" y="394.82" width="1.80" height="4.04" fill="#31678d"/><rect x="502.50" y="395.74" width="4.07" height="2.20" fill="#2a778d"/><rect x="505.97" y="394.82" width="1.80" height="4.04" fill="#2c728d"/><rect x="506.57" y="395.74" width="4.07" height="2.20" fill="#25838d"/><rect x="510.03" y="394.82" width="1.80" height="4.04" fill="#355e8c"/><rect x="510.63" y="395.74" width="4.07" height="2.20" fill="#2f6b8d"/><rect x="514.10" y="394.82" width="1.80" height="4.04" fill="#404487"/><rect x="514.70" y="395.74" width="4.07" height="2.20" fill="#3e4a88"/><rect x="501.90" y="398.87" width="1.80" height="4.04" fill="#43377f"/><rect x="502.50" y="399.79" width="4.07" height="2.20" fill="#423c82"/><rect x="505.97" y="398.87" width="1.80" height="4.04" fill="#423e83"/><rect x="506.57" y="399.79" width="4.07" height="2.20" fill="#404487"/><rect x="510.03" y="398.87" width="1.80" height="4.04" fill="#43377f"/><rect x="510.63" y="399.79" width="4.07" height="2.20" fill="#423b82"/><rect x="497.83" y="402.91" width="1.80" height="4.04" fill="#287d8d"/><rect x="498.43" y="403.83" width="4.07" height="2.20" fill="#21908c"/></g></g>
<rect x="530.3" y="374.6" width="36.6" height="36.4" fill="#47307e"/>
<clipPath id="tc13"><rect x="530.3" y="374.6" width="36.6" height="36.4"/></clipPath>
<g clip-path="url(#tc13)"><g filter="url(#bl3)"><rect x="546.80" y="375.72" width="3.60" height="1.80" fill="#452d7a"/><rect x="550.87" y="375.72" width="3.60" height="1.80" fill="#462d7a"/><rect x="559.00" y="375.72" width="3.60" height="1.80" fill="#433980"/><rect x="546.80" y="379.77" width="3.60" height="1.80" fill="#452f7b"/><rect x="550.87" y="379.77" width="3.60" height="1.80" fill="#404687"/><rect x="542.73" y="387.86" width="3.60" height="1.80" fill="#404487"/><rect x="530.53" y="391.90" width="3.60" height="1.80" fill="#423f84"/><rect x="538.67" y="391.90" width="3.60" height="1.80" fill="#462c79"/><rect x="563.07" y="391.90" width="3.60" height="1.80" fill="#433780"/><rect x="538.67" y="395.94" width="3.60" height="1.80" fill="#44327d"/><rect x="542.73" y="395.94" width="3.60" height="1.80" fill="#423e83"/><rect x="550.87" y="395.94" width="3.60" height="1.80" fill="#2b758d"/><rect x="554.93" y="395.94" width="3.60" height="1.80" fill="#38578b"/><rect x="538.67" y="399.99" width="3.60" height="1.80" fill="#452f7b"/><rect x="542.73" y="399.99" width="3.60" height="1.80" fill="#433880"/><rect x="538.67" y="404.03" width="3.60" height="1.80" fill="#26808d"/><rect x="542.73" y="404.03" width="3.60" height="1.80" fill="#414185"/><rect x="546.80" y="404.03" width="3.60" height="1.80" fill="#3d4a88"/><rect x="546.80" y="408.08" width="3.60" height="1.80" fill="#3b5189"/><rect x="550.87" y="408.08" width="3.60" height="1.80" fill="#452e7b"/><rect x="554.93" y="408.08" width="3.60" height="1.80" fill="#423d83"/></g></g>
<rect x="570.5" y="374.6" width="36.6" height="36.4" fill="#48256f"/>
<clipPath id="tc14"><rect x="570.5" y="374.6" width="36.6" height="36.4"/></clipPath>
<g clip-path="url(#tc14)"><g filter="url(#bl3)"><rect x="570.73" y="375.72" width="3.60" height="1.80" fill="#414084"/><rect x="578.87" y="379.77" width="3.60" height="1.80" fill="#462c7a"/><rect x="603.27" y="379.77" width="3.60" height="1.80" fill="#433a81"/><rect x="574.80" y="383.81" width="3.60" height="1.80" fill="#423e83"/><rect x="578.87" y="383.81" width="3.60" height="1.80" fill="#45317c"/><rect x="582.93" y="383.81" width="3.60" height="1.80" fill="#462c79"/><rect x="591.07" y="383.81" width="3.60" height="1.80" fill="#433780"/><rect x="595.13" y="383.81" width="3.60" height="1.80" fill="#2d6f8d"/><rect x="578.87" y="387.86" width="3.60" height="1.80" fill="#423c82"/><rect x="587.00" y="387.86" width="3.60" height="1.80" fill="#452e7a"/><rect x="591.07" y="387.86" width="3.60" height="1.80" fill="#45307b"/><rect x="595.13" y="387.86" width="3.60" height="1.80" fill="#423d83"/><rect x="599.20" y="387.86" width="3.60" height="1.80" fill="#433980"/><rect x="578.87" y="391.90" width="3.60" height="1.80" fill="#3d4b88"/><rect x="582.93" y="391.90" width="3.60" height="1.80" fill="#3c4e89"/><rect x="587.00" y="391.90" width="3.60" height="1.80" fill="#287c8d"/><rect x="591.07" y="391.90" width="3.60" height="1.80" fill="#25838d"/><rect x="595.13" y="391.90" width="3.60" height="1.80" fill="#2e6e8d"/><rect x="599.20" y="391.90" width="3.60" height="1.80" fill="#413f84"/><rect x="574.80" y="395.94" width="3.60" height="1.80" fill="#452d7a"/><rect x="578.87" y="395.94" width="3.60" height="1.80" fill="#43367f"/><rect x="587.00" y="395.94" width="3.60" height="1.80" fill="#423d83"/><rect x="574.80" y="399.99" width="3.60" height="1.80" fill="#3d4b88"/><rect x="578.87" y="399.99" width="3.60" height="1.80" fill="#287d8d"/><rect x="582.93" y="399.99" width="3.60" height="1.80" fill="#452f7b"/><rect x="574.80" y="404.03" width="3.60" height="1.80" fill="#423e83"/><rect x="591.07" y="404.03" width="3.60" height="1.80" fill="#45307c"/><rect x="587.00" y="408.08" width="3.60" height="1.80" fill="#452d7a"/></g></g>
<rect x="410.2" y="414.9" width="36.6" height="36.4" fill="#482e7d"/>
<clipPath id="tc15"><rect x="410.2" y="414.9" width="36.6" height="36.4"/></clipPath>
<g clip-path="url(#tc15)"><g filter="url(#bl3)"><rect x="426.70" y="416.02" width="3.60" height="1.80" fill="#423a81"/><rect x="430.77" y="416.02" width="3.60" height="1.80" fill="#433780"/><rect x="434.83" y="416.02" width="3.60" height="1.80" fill="#433880"/><rect x="426.70" y="420.07" width="3.60" height="1.80" fill="#423e83"/><rect x="430.77" y="420.07" width="3.60" height="1.80" fill="#404487"/><rect x="434.83" y="420.07" width="3.60" height="1.80" fill="#423b82"/><rect x="422.63" y="424.11" width="3.60" height="1.80" fill="#433780"/><rect x="426.70" y="424.11" width="3.60" height="1.80" fill="#3f4687"/><rect x="430.77" y="424.11" width="3.60" height="1.80" fill="#39538a"/><rect x="434.83" y="424.11" width="3.60" height="1.80" fill="#3f4687"/><rect x="422.63" y="428.16" width="3.60" height="1.80" fill="#423c82"/><rect x="426.70" y="428.16" width="3.60" height="1.80" fill="#3b5189"/><rect x="430.77" y="428.16" width="3.60" height="1.80" fill="#2f6b8d"/><rect x="434.83" y="428.16" width="3.60" height="1.80" fill="#38578b"/><rect x="438.90" y="428.16" width="3.60" height="1.80" fill="#43377f"/><rect x="422.63" y="432.20" width="3.60" height="1.80" fill="#414084"/><rect x="426.70" y="432.20" width="3.60" height="1.80" fill="#365b8c"/><rect x="430.77" y="432.20" width="3.60" height="1.80" fill="#2f6c8d"/><rect x="434.83" y="432.20" width="3.60" height="1.80" fill="#3d4c88"/><rect x="438.90" y="432.20" width="3.60" height="1.80" fill="#433880"/><rect x="422.63" y="436.24" width="3.60" height="1.80" fill="#433a81"/><rect x="426.70" y="436.24" width="3.60" height="1.80" fill="#365a8c"/><rect x="430.77" y="436.24" width="3.60" height="1.80" fill="#33628d"/><rect x="434.83" y="436.24" width="3.60" height="1.80" fill="#3d4c88"/><rect x="438.90" y="436.24" width="3.60" height="1.80" fill="#43377f"/><rect x="422.63" y="440.29" width="3.60" height="1.80" fill="#43367f"/><rect x="426.70" y="440.29" width="3.60" height="1.80" fill="#3b5089"/><rect x="430.77" y="440.29" width="3.60" height="1.80" fill="#3b5089"/><rect x="434.83" y="440.29" width="3.60" height="1.80" fill="#3d4c88"/><rect x="414.50" y="444.33" width="3.60" height="1.80" fill="#31658d"/><rect x="418.57" y="444.33" width="3.60" height="1.80" fill="#3c4d89"/><rect x="426.70" y="444.33" width="3.60" height="1.80" fill="#423c82"/><rect x="430.77" y="444.33" width="3.60" height="1.80" fill="#3f4787"/><rect x="434.83" y="444.33" width="3.60" height="1.80" fill="#423d83"/><rect x="414.50" y="448.38" width="3.60" height="1.80" fill="#433a81"/><rect x="426.70" y="448.38" width="3.60" height="1.80" fill="#433a81"/><rect x="430.77" y="448.38" width="3.60" height="1.80" fill="#433880"/></g></g>
<rect x="450.2" y="414.9" width="36.6" height="36.4" fill="#481f6f"/>
<clipPath id="tc16"><rect x="450.2" y="414.9" width="36.6" height="36.4"/></clipPath>
<g clip-path="url(#tc16)"><g filter="url(#bl5)"><ellipse cx="468.5" cy="434.9" rx="5.9" ry="3.6" fill="#2f9e88" opacity="0.45"/></g></g>
<g clip-path="url(#tc16)"><g filter="url(#bl4)"><rect x="457.73" y="427.03" width="1.80" height="4.04" fill="#44357e"/><rect x="458.33" y="427.96" width="4.07" height="2.20" fill="#433981"/><rect x="461.80" y="427.03" width="1.80" height="4.04" fill="#3f4687"/><rect x="462.40" y="427.96" width="4.07" height="2.20" fill="#3c4d89"/><rect x="465.87" y="427.03" width="1.80" height="4.04" fill="#3b5189"/><rect x="466.47" y="427.96" width="4.07" height="2.20" fill="#365a8c"/><rect x="469.93" y="427.03" width="1.80" height="4.04" fill="#414386"/><rect x="470.53" y="427.96" width="4.07" height="2.20" fill="#3e4988"/><rect x="474.00" y="427.03" width="1.80" height="4.04" fill="#44337d"/><rect x="474.60" y="427.96" width="4.07" height="2.20" fill="#43367f"/><rect x="453.67" y="431.08" width="1.80" height="4.04" fill="#44347e"/><rect x="454.27" y="432.00" width="4.07" height="2.20" fill="#433880"/><rect x="457.73" y="431.08" width="1.80" height="4.04" fill="#3d4c88"/><rect x="458.33" y="432.00" width="4.07" height="2.20" fill="#39548a"/><rect x="461.80" y="431.08" width="1.80" height="4.04" fill="#30688d"/><rect x="462.40" y="432.00" width="4.07" height="2.20" fill="#2a778d"/><rect x="465.87" y="431.08" width="1.80" height="4.04" fill="#287b8d"/><rect x="466.47" y="432.00" width="4.07" height="2.20" fill="#228e8c"/><rect x="469.93" y="431.08" width="1.80" height="4.04" fill="#2d708d"/><rect x="470.53" y="432.00" width="4.07" height="2.20" fill="#26808d"/><rect x="474.00" y="431.08" width="1.80" height="4.04" fill="#3e4a88"/><rect x="474.60" y="432.00" width="4.07" height="2.20" fill="#3a528a"/><rect x="478.07" y="431.08" width="1.80" height="4.04" fill="#44357e"/><rect x="478.67" y="432.00" width="4.07" height="2.20" fill="#433981"/><rect x="453.67" y="435.12" width="1.80" height="4.04" fill="#44357e"/><rect x="454.27" y="436.04" width="4.07" height="2.20" fill="#433981"/><rect x="457.73" y="435.12" width="1.80" height="4.04" fill="#3c4d89"/><rect x="458.33" y="436.04" width="4.07" height="2.20" fill="#38568b"/><rect x="461.80" y="435.12" width="1.80" height="4.04" fill="#2a778d"/><rect x="462.40" y="436.04" width="4.07" height="2.20" fill="#23898c"/><rect x="465.87" y="435.12" width="1.80" height="4.04" fill="#287c8d"/><rect x="466.47" y="436.04" width="4.07" height="2.20" fill="#218f8c"/><rect x="469.93" y="435.12" width="1.80" height="4.04" fill="#2b748d"/><rect x="470.53" y="436.04" width="4.07" height="2.20" fill="#25858c"/><rect x="474.00" y="435.12" width="1.80" height="4.04" fill="#3c4d89"/><rect x="474.60" y="436.04" width="4.07" height="2.20" fill="#38568b"/><rect x="478.07" y="435.12" width="1.80" height="4.04" fill="#44347e"/><rect x="478.67" y="436.04" width="4.07" height="2.20" fill="#433880"/><rect x="461.80" y="439.17" width="1.80" height="4.04" fill="#414084"/><rect x="462.40" y="440.09" width="4.07" height="2.20" fill="#3f4687"/><rect x="465.87" y="439.17" width="1.80" height="4.04" fill="#404587"/><rect x="466.47" y="440.09" width="4.07" height="2.20" fill="#3d4c88"/><rect x="469.93" y="439.17" width="1.80" height="4.04" fill="#414185"/><rect x="470.53" y="440.09" width="4.07" height="2.20" fill="#3f4787"/><rect x="474.00" y="439.17" width="1.80" height="4.04" fill="#44347e"/><rect x="474.60" y="440.09" width="4.07" height="2.20" fill="#433880"/><rect x="453.67" y="443.21" width="1.80" height="4.04" fill="#39558a"/><rect x="454.27" y="444.13" width="4.07" height="2.20" fill="#34608d"/><rect x="453.67" y="447.26" width="1.80" height="4.04" fill="#3f4787"/><rect x="454.27" y="448.18" width="4.07" height="2.20" fill="#3c4e89"/></g></g>
<rect x="490.3" y="414.9" width="36.6" height="36.4" fill="#481c6c"/>
<clipPath id="tc17"><rect x="490.3" y="414.9" width="36.6" height="36.4"/></clipPath>
<g clip-path="url(#tc17)"><g filter="url(#bl3)"><rect x="498.67" y="420.07" width="3.60" height="1.80" fill="#452d7a"/><rect x="502.73" y="420.07" width="3.60" height="1.80" fill="#44337d"/><rect x="506.80" y="420.07" width="3.60" height="1.80" fill="#44337d"/><rect x="510.87" y="420.07" width="3.60" height="1.80" fill="#44337d"/><rect x="514.93" y="420.07" width="3.60" height="1.80" fill="#452d7a"/><rect x="494.60" y="424.11" width="3.60" height="1.80" fill="#43367f"/><rect x="498.67" y="424.11" width="3.60" height="1.80" fill="#3e4988"/><rect x="502.73" y="424.11" width="3.60" height="1.80" fill="#3c4e89"/><rect x="506.80" y="424.11" width="3.60" height="1.80" fill="#375a8b"/><rect x="510.87" y="424.11" width="3.60" height="1.80" fill="#3b4f89"/><rect x="514.93" y="424.11" width="3.60" height="1.80" fill="#414386"/><rect x="519.00" y="424.11" width="3.60" height="1.80" fill="#452e7b"/><rect x="490.53" y="428.16" width="3.60" height="1.80" fill="#44327c"/><rect x="494.60" y="428.16" width="3.60" height="1.80" fill="#3f4787"/><rect x="498.67" y="428.16" width="3.60" height="1.80" fill="#355e8c"/><rect x="502.73" y="428.16" width="3.60" height="1.80" fill="#2c718d"/><rect x="506.80" y="428.16" width="3.60" height="1.80" fill="#22938a"/><rect x="510.87" y="428.16" width="3.60" height="1.80" fill="#2b748d"/><rect x="514.93" y="428.16" width="3.60" height="1.80" fill="#355e8c"/><rect x="519.00" y="428.16" width="3.60" height="1.80" fill="#433981"/><rect x="523.07" y="428.16" width="3.60" height="1.80" fill="#462c79"/><rect x="490.53" y="432.20" width="3.60" height="1.80" fill="#44357e"/><rect x="494.60" y="432.20" width="3.60" height="1.80" fill="#3a528a"/><rect x="498.67" y="432.20" width="3.60" height="1.80" fill="#32658d"/><rect x="502.73" y="432.20" width="3.60" height="1.80" fill="#228d8c"/><rect x="506.80" y="432.20" width="3.60" height="1.80" fill="#238b8c"/><rect x="510.87" y="432.20" width="3.60" height="1.80" fill="#218f8c"/><rect x="514.93" y="432.20" width="3.60" height="1.80" fill="#34608d"/><rect x="519.00" y="432.20" width="3.60" height="1.80" fill="#3f4787"/><rect x="523.07" y="432.20" width="3.60" height="1.80" fill="#452d7a"/><rect x="490.53" y="436.24" width="3.60" height="1.80" fill="#45317c"/><rect x="494.60" y="436.24" width="3.60" height="1.80" fill="#3e4988"/><rect x="498.67" y="436.24" width="3.60" height="1.80" fill="#355c8c"/><rect x="502.73" y="436.24" width="3.60" height="1.80" fill="#277e8d"/><rect x="506.80" y="436.24" width="3.60" height="1.80" fill="#22938a"/><rect x="510.87" y="436.24" width="3.60" height="1.80" fill="#2b758d"/><rect x="514.93" y="436.24" width="3.60" height="1.80" fill="#39548a"/><rect x="519.00" y="436.24" width="3.60" height="1.80" fill="#433a81"/><rect x="523.07" y="436.24" width="3.60" height="1.80" fill="#462c79"/><rect x="494.60" y="440.29" width="3.60" height="1.80" fill="#44357e"/><rect x="498.67" y="440.29" width="3.60" height="1.80" fill="#404687"/><rect x="502.73" y="440.29" width="3.60" height="1.80" fill="#39538a"/><rect x="506.80" y="440.29" width="3.60" height="1.80" fill="#3b5189"/><rect x="510.87" y="440.29" width="3.60" height="1.80" fill="#3b5089"/><rect x="514.93" y="440.29" width="3.60" height="1.80" fill="#414386"/><rect x="519.00" y="440.29" width="3.60" height="1.80" fill="#452f7b"/><rect x="498.67" y="444.33" width="3.60" height="1.80" fill="#452d7a"/><rect x="502.73" y="444.33" width="3.60" height="1.80" fill="#45307c"/><rect x="506.80" y="444.33" width="3.60" height="1.80" fill="#43367f"/><rect x="510.87" y="444.33" width="3.60" height="1.80" fill="#45317c"/><rect x="514.93" y="444.33" width="3.60" height="1.80" fill="#462c79"/></g></g>
<rect x="530.3" y="414.9" width="36.6" height="36.4" fill="#463e87"/>
<clipPath id="tc18"><rect x="530.3" y="414.9" width="36.6" height="36.4"/></clipPath>
<g clip-path="url(#tc18)"><g filter="url(#bl3)"><rect x="542.73" y="416.02" width="3.60" height="1.80" fill="#414386"/><rect x="546.80" y="416.02" width="3.60" height="1.80" fill="#3c4d89"/><rect x="550.87" y="416.02" width="3.60" height="1.80" fill="#3f4687"/><rect x="542.73" y="420.07" width="3.60" height="1.80" fill="#3b4f89"/><rect x="546.80" y="420.07" width="3.60" height="1.80" fill="#355d8c"/><rect x="550.87" y="420.07" width="3.60" height="1.80" fill="#3a518a"/><rect x="554.93" y="420.07" width="3.60" height="1.80" fill="#413f84"/><rect x="542.73" y="424.11" width="3.60" height="1.80" fill="#38568b"/><rect x="546.80" y="424.11" width="3.60" height="1.80" fill="#2f6b8d"/><rect x="550.87" y="424.11" width="3.60" height="1.80" fill="#37598b"/><rect x="538.67" y="428.16" width="3.60" height="1.80" fill="#414286"/><rect x="542.73" y="428.16" width="3.60" height="1.80" fill="#38588b"/><rect x="546.80" y="428.16" width="3.60" height="1.80" fill="#306a8d"/><rect x="550.87" y="428.16" width="3.60" height="1.80" fill="#38578b"/><rect x="554.93" y="428.16" width="3.60" height="1.80" fill="#414386"/><rect x="538.67" y="432.20" width="3.60" height="1.80" fill="#404487"/><rect x="542.73" y="432.20" width="3.60" height="1.80" fill="#3b5089"/><rect x="546.80" y="432.20" width="3.60" height="1.80" fill="#2e6d8d"/><rect x="550.87" y="432.20" width="3.60" height="1.80" fill="#375a8b"/><rect x="554.93" y="432.20" width="3.60" height="1.80" fill="#423e84"/><rect x="538.67" y="436.24" width="3.60" height="1.80" fill="#413f84"/><rect x="542.73" y="436.24" width="3.60" height="1.80" fill="#3d4c88"/><rect x="546.80" y="436.24" width="3.60" height="1.80" fill="#31678d"/><rect x="550.87" y="436.24" width="3.60" height="1.80" fill="#39558a"/><rect x="554.93" y="436.24" width="3.60" height="1.80" fill="#414084"/><rect x="542.73" y="440.29" width="3.60" height="1.80" fill="#3e4988"/><rect x="546.80" y="440.29" width="3.60" height="1.80" fill="#29788d"/><rect x="550.87" y="440.29" width="3.60" height="1.80" fill="#31678d"/><rect x="554.93" y="440.29" width="3.60" height="1.80" fill="#423e84"/><rect x="542.73" y="444.33" width="3.60" height="1.80" fill="#3e4988"/><rect x="546.80" y="444.33" width="3.60" height="1.80" fill="#38568b"/><rect x="550.87" y="444.33" width="3.60" height="1.80" fill="#3d4b88"/><rect x="546.80" y="448.38" width="3.60" height="1.80" fill="#404487"/><rect x="550.87" y="448.38" width="3.60" height="1.80" fill="#423f84"/></g></g>
<rect x="570.5" y="414.9" width="36.6" height="36.4" fill="#48196a"/>
<clipPath id="tc19"><rect x="570.5" y="414.9" width="36.6" height="36.4"/></clipPath>
<g clip-path="url(#tc19)"><g filter="url(#bl3)"><rect x="591.07" y="416.02" width="3.60" height="1.80" fill="#452f7b"/><rect x="587.00" y="420.07" width="3.60" height="1.80" fill="#462c7a"/><rect x="595.13" y="420.07" width="3.60" height="1.80" fill="#462c79"/><rect x="578.87" y="424.11" width="3.60" height="1.80" fill="#452d7a"/><rect x="582.93" y="424.11" width="3.60" height="1.80" fill="#414084"/><rect x="587.00" y="424.11" width="3.60" height="1.80" fill="#3f4787"/><rect x="591.07" y="424.11" width="3.60" height="1.80" fill="#44337d"/><rect x="599.20" y="424.11" width="3.60" height="1.80" fill="#462c79"/><rect x="574.80" y="428.16" width="3.60" height="1.80" fill="#452d7a"/><rect x="578.87" y="428.16" width="3.60" height="1.80" fill="#452d7a"/><rect x="582.93" y="428.16" width="3.60" height="1.80" fill="#3b4f89"/><rect x="587.00" y="428.16" width="3.60" height="1.80" fill="#3a528a"/><rect x="591.07" y="428.16" width="3.60" height="1.80" fill="#3d4b88"/><rect x="595.13" y="428.16" width="3.60" height="1.80" fill="#414386"/><rect x="574.80" y="432.20" width="3.60" height="1.80" fill="#45317c"/><rect x="578.87" y="432.20" width="3.60" height="1.80" fill="#44327c"/><rect x="587.00" y="432.20" width="3.60" height="1.80" fill="#3d4b88"/><rect x="595.13" y="432.20" width="3.60" height="1.80" fill="#423d83"/><rect x="578.87" y="436.24" width="3.60" height="1.80" fill="#44337d"/><rect x="582.93" y="436.24" width="3.60" height="1.80" fill="#423d83"/><rect x="587.00" y="436.24" width="3.60" height="1.80" fill="#433a81"/><rect x="591.07" y="436.24" width="3.60" height="1.80" fill="#3c4f89"/><rect x="595.13" y="436.24" width="3.60" height="1.80" fill="#414084"/><rect x="599.20" y="436.24" width="3.60" height="1.80" fill="#45317c"/><rect x="582.93" y="440.29" width="3.60" height="1.80" fill="#423f84"/><rect x="587.00" y="440.29" width="3.60" height="1.80" fill="#452f7b"/><rect x="578.87" y="444.33" width="3.60" height="1.80" fill="#32648d"/><rect x="591.07" y="444.33" width="3.60" height="1.80" fill="#44347e"/><rect x="595.13" y="444.33" width="3.60" height="1.80" fill="#452f7b"/><rect x="578.87" y="448.38" width="3.60" height="1.80" fill="#404587"/><rect x="582.93" y="448.38" width="3.60" height="1.80" fill="#462c79"/></g></g>
<text x="230.6" y="370.9" font-family="Liberation Sans" font-weight="bold" font-size="11.3" fill="#111">Geom-WAE (Euclidean)</text>
<text x="454.2" y="371.3" font-family="Liberation Sans" font-weight="bold" font-size="11.3" fill="#111">Geom-WAE (Poincare)</text>
</svg>
</body></html>
